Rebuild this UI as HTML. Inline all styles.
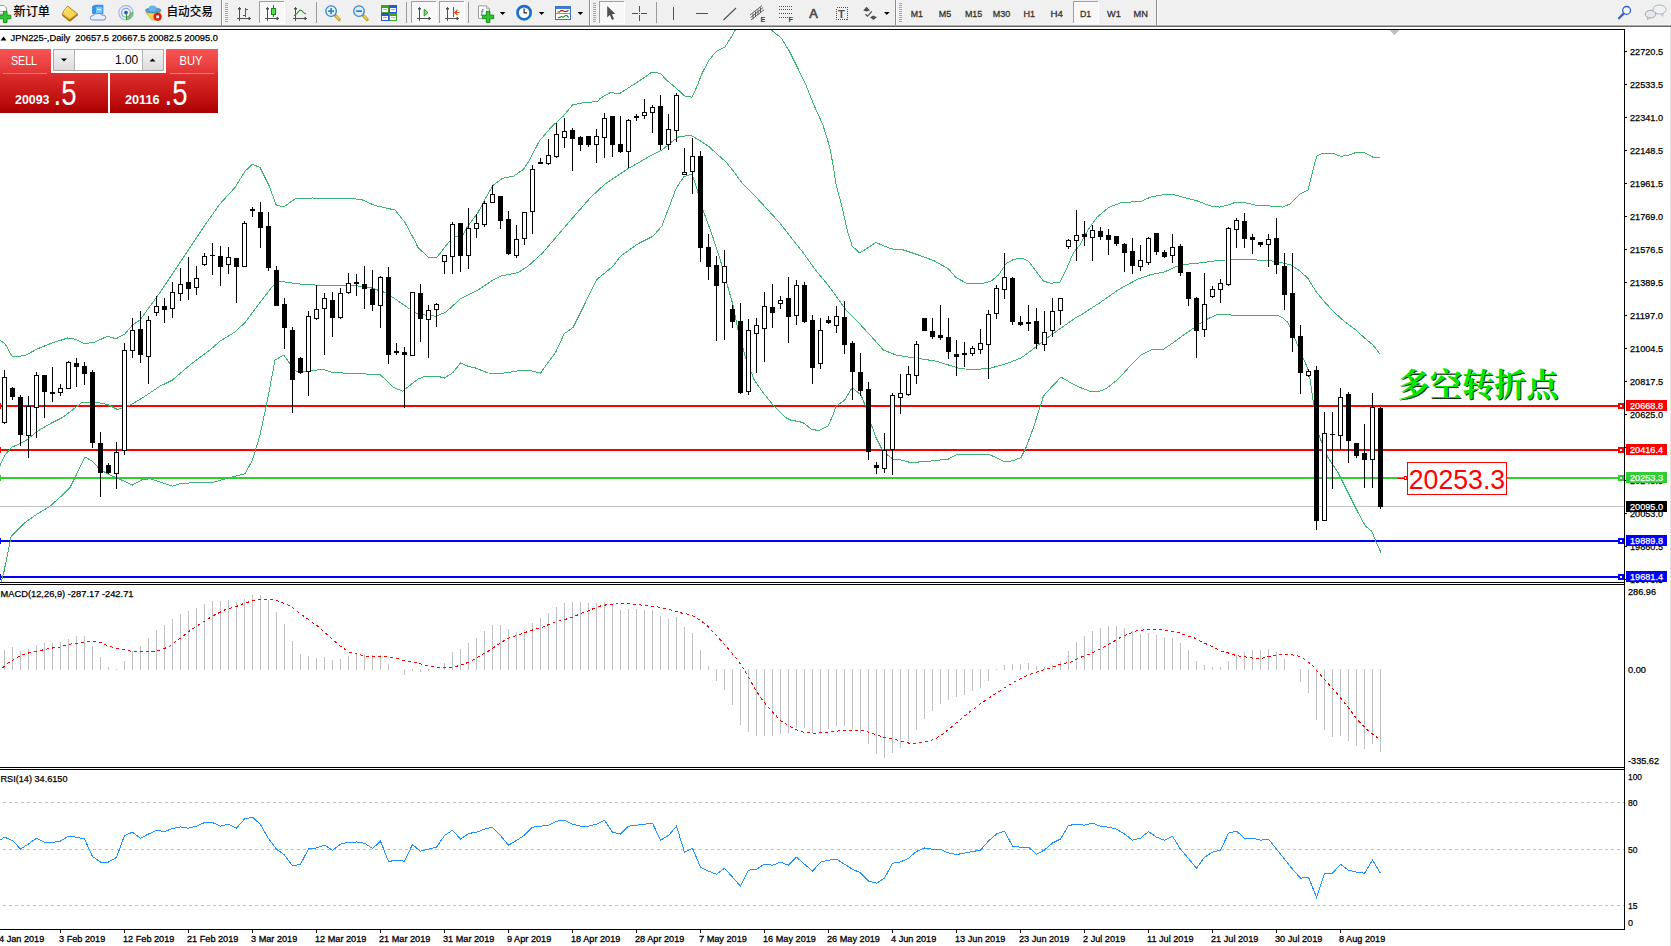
<!DOCTYPE html>
<html lang="zh"><head><meta charset="utf-8"><title>JPN225 Daily</title>
<style>html,body{margin:0;padding:0;background:#fff}body{width:1671px;height:946px;overflow:hidden;position:relative}svg{position:absolute;left:0;top:0;display:block}text{font-family:'Liberation Sans','Noto Sans CJK SC',sans-serif}.c{shape-rendering:crispEdges}</style>
</head><body>
<svg width="1671" height="946" viewBox="0 0 1671 946">
<defs>
<clipPath id="cpMain"><rect x="0" y="30" width="1624" height="552"/></clipPath>
<clipPath id="cpMacd"><rect x="0" y="585" width="1624" height="182"/></clipPath>
<clipPath id="cpRsi"><rect x="0" y="770" width="1624" height="159"/></clipPath>
<linearGradient id="gSell" x1="0" y1="0" x2="0" y2="1"><stop offset="0" stop-color="#f95555"/><stop offset="1" stop-color="#e23434"/></linearGradient>
<linearGradient id="gPrice" x1="0" y1="0" x2="0" y2="1"><stop offset="0" stop-color="#de2f2f"/><stop offset="0.75" stop-color="#bc0c0c"/><stop offset="1" stop-color="#a80000"/></linearGradient>
<linearGradient id="gBtn" x1="0" y1="0" x2="0" y2="1"><stop offset="0" stop-color="#f4f4f4"/><stop offset="1" stop-color="#dcdcdc"/></linearGradient>
</defs>
<rect x="0" y="0" width="1671" height="946" fill="#fff"/>
<g class="c">
<rect x="0" y="0" width="1671" height="25" fill="#f0f0f0"/>
<rect x="0" y="24" width="1671" height="1" fill="#f6f6f6"/>
<rect x="0" y="25" width="1671" height="1" fill="#a9a9a9"/>
<rect x="0" y="26" width="1671" height="1" fill="#6b6b6b"/>
</g>
<path d="M-3 5.5 H4 L6.5 8 V14 H-3 Z" fill="#fff" stroke="#9a9a9a" stroke-width="1"/>
<rect class="c" x="0" y="11" width="4" height="1" fill="#b0b0b0"/>
<path d="M3.4000000000000004 11.4 h3.6 v3.8 h3.8 v3.6 h-3.8 v3.8 h-3.6 v-3.8 h-3.8 v-3.6 h3.8 z" fill="#2ec82e" stroke="#0e8a0e" stroke-width="0.9"/>
<text x="13.5" y="16" font-size="12" font-weight="500" fill="#000" textLength="36.5" lengthAdjust="spacingAndGlyphs">新订单</text>
<path d="M67.7 6 L78 14.2 L71 20.8 Q69.5 21.3 68.5 20.2 L62 14.6 Q63.5 10 67.7 6 Z" fill="#e9b93a" stroke="#b07d18" stroke-width="0.8"/>
<path d="M67.7 7 L76 13.8 L70.5 18.6 L63.6 13.6 Z" fill="#f7d95a"/>
<path d="M62.4 15 L69.4 20.6 L77.6 14.6" fill="none" stroke="#a87718" stroke-width="1.5"/>
<path d="M64.2 12.4 Q65.6 9 67.8 7.2" fill="none" stroke="#fff3b0" stroke-width="1"/>
<path d="M92.5 6.5 L95 5.2 H103 V13.5 H92.5 Z" fill="#2f95ee" stroke="#1f74c8" stroke-width="0.6"/>
<rect x="96" y="7" width="6.4" height="6" fill="#7cc8fb"/>
<rect class="c" x="97" y="9" width="4" height="1" fill="#fff"/>
<path d="M92.5 20 Q90 19.8 90.3 17.6 Q90.6 15.4 93.2 15.6 Q94.5 13 97.6 13.6 Q100 12.6 101.8 15 Q105.8 14.6 105.8 17.6 Q105.8 20 103.2 20 Z" fill="#e9eff8" stroke="#5d86c2" stroke-width="0.9"/>
<circle cx="126" cy="12.7" r="7.2" fill="none" stroke="#a9bce6" stroke-width="1.3"/>
<circle cx="126" cy="12.7" r="4.4" fill="none" stroke="#8aa6e0" stroke-width="1.3"/>
<path d="M126.4 20 A7.3 7.3 0 0 0 133.2 12 L129.8 12.4 A3.9 3.9 0 0 1 126.4 16.4 Z" fill="#62b862" opacity="0.85"/>
<circle cx="126" cy="12.6" r="1.9" fill="#2a56d4"/>
<rect class="c" x="126" y="13" width="1" height="7" fill="#28a428"/>
<path d="M146 12.6 L160.4 12.4 L154.4 20.2 L151.5 19.6 Z" fill="#f3d450" stroke="#d0a21c" stroke-width="0.7"/>
<ellipse cx="153.2" cy="10.4" rx="7.8" ry="2.6" fill="#4f9fd6" stroke="#2f7fb8" stroke-width="0.6"/>
<ellipse cx="152.6" cy="8.4" rx="3.9" ry="3" fill="#69b4e4"/>
<circle cx="157.6" cy="16.8" r="4.1" fill="#e0200c"/>
<rect x="156.3" y="15.5" width="2.7" height="2.7" fill="#fff"/>
<text x="166.5" y="16" font-size="12" font-weight="500" fill="#000" textLength="46.5" lengthAdjust="spacingAndGlyphs">自动交易</text>
<rect class="c" x="221" y="0" width="1" height="25" fill="#8c8c8c"/><rect class="c" x="222" y="0" width="1" height="25" fill="#fbfbfb"/>
<g class="c" fill="#a6a6a6">
<rect x="225" y="3" width="3" height="1"/>
<rect x="225" y="5" width="3" height="1"/>
<rect x="225" y="7" width="3" height="1"/>
<rect x="225" y="9" width="3" height="1"/>
<rect x="225" y="11" width="3" height="1"/>
<rect x="225" y="13" width="3" height="1"/>
<rect x="225" y="15" width="3" height="1"/>
<rect x="225" y="17" width="3" height="1"/>
<rect x="225" y="19" width="3" height="1"/>
<rect x="225" y="21" width="3" height="1"/>
</g>
<g class="c" fill="#505050">
<rect x="239" y="8" width="1" height="13"/>
<rect x="238" y="8" width="3" height="1"/>
<rect x="238" y="9" width="3" height="1" opacity="0.5"/>
<rect x="239" y="7" width="1" height="1"/>
<rect x="237" y="18" width="14" height="1"/>
<rect x="249" y="17" width="1" height="3"/>
<rect x="248" y="17" width="1" height="3" opacity="0.5"/>
</g>
<g class="c" fill="#148a14"><rect x="245" y="8" width="1" height="9"/><rect x="245" y="9" width="3" height="1"/><rect x="243" y="15" width="3" height="1"/></g>
<g class="c">
<rect x="259" y="1" width="25" height="22" fill="#f8f8f8"/>
<rect x="259" y="1" width="25" height="1" fill="#a0a0a0"/>
<rect x="259" y="1" width="1" height="22" fill="#a0a0a0"/>
<rect x="284" y="2" width="1" height="22" fill="#ffffff"/>
<rect x="259" y="23" width="26" height="1" fill="#ffffff"/>
</g>
<g class="c" fill="#505050">
<rect x="267" y="8" width="1" height="13"/>
<rect x="266" y="8" width="3" height="1"/>
<rect x="266" y="9" width="3" height="1" opacity="0.5"/>
<rect x="267" y="7" width="1" height="1"/>
<rect x="265" y="18" width="14" height="1"/>
<rect x="277" y="17" width="1" height="3"/>
<rect x="276" y="17" width="1" height="3" opacity="0.5"/>
</g>
<g class="c"><rect x="273" y="5" width="1" height="12" fill="#148a14"/><rect x="271" y="8" width="5" height="7" fill="#148a14"/><rect x="272" y="9" width="3" height="5" fill="#56e056"/></g>
<g class="c" fill="#505050">
<rect x="295" y="8" width="1" height="13"/>
<rect x="294" y="8" width="3" height="1"/>
<rect x="294" y="9" width="3" height="1" opacity="0.5"/>
<rect x="295" y="7" width="1" height="1"/>
<rect x="293" y="18" width="14" height="1"/>
<rect x="305" y="17" width="1" height="3"/>
<rect x="304" y="17" width="1" height="3" opacity="0.5"/>
</g>
<path d="M294 15.8 Q297.5 13.5 299 11 Q300.3 9.4 301.6 10.6 Q303.5 13 306 14" fill="none" stroke="#2a9a2a" stroke-width="1.1"/>
<rect class="c" x="316" y="2" width="1" height="21" fill="#9a9a9a"/>
<path d="M335.3 15.4 L339.3 19.6" stroke="#caa21e" stroke-width="3" stroke-linecap="round"/>
<path d="M335.70000000000005 15.6 L339.3 19.4" stroke="#f1dc78" stroke-width="1.1"/>
<circle cx="331.1" cy="11.1" r="5.3" fill="#dcf1fd" stroke="#3683d2" stroke-width="1.3"/>
<rect x="328.1" y="10.3" width="6" height="1.7" fill="#3a83b8"/>
<rect x="330.25" y="8.1" width="1.7" height="6" fill="#3a83b8"/>
<path d="M363.2 15.4 L367.2 19.6" stroke="#caa21e" stroke-width="3" stroke-linecap="round"/>
<path d="M363.6 15.6 L367.2 19.4" stroke="#f1dc78" stroke-width="1.1"/>
<circle cx="359.0" cy="11.1" r="5.3" fill="#dcf1fd" stroke="#3683d2" stroke-width="1.3"/>
<rect x="356.0" y="10.3" width="6" height="1.7" fill="#3a83b8"/>
<g class="c"><rect x="381" y="5" width="8" height="8" fill="#3ba322"/><rect x="382" y="8" width="6" height="4" fill="#fff"/><rect x="383" y="9" width="4" height="1" fill="#3ba322" opacity="0.55"/></g>
<g class="c"><rect x="389" y="5" width="8" height="8" fill="#2a55cf"/><rect x="390" y="8" width="6" height="4" fill="#fff"/><rect x="391" y="9" width="4" height="1" fill="#2a55cf" opacity="0.55"/></g>
<g class="c"><rect x="381" y="13" width="8" height="8" fill="#2a55cf"/><rect x="382" y="16" width="6" height="4" fill="#fff"/><rect x="383" y="17" width="4" height="1" fill="#2a55cf" opacity="0.55"/></g>
<g class="c"><rect x="389" y="13" width="8" height="8" fill="#3ba322"/><rect x="390" y="16" width="6" height="4" fill="#fff"/><rect x="391" y="17" width="4" height="1" fill="#3ba322" opacity="0.55"/></g>
<rect class="c" x="406" y="2" width="1" height="21" fill="#9a9a9a"/>
<g class="c">
<rect x="411" y="1" width="25" height="22" fill="#f8f8f8"/>
<rect x="411" y="1" width="25" height="1" fill="#a0a0a0"/>
<rect x="411" y="1" width="1" height="22" fill="#a0a0a0"/>
<rect x="436" y="2" width="1" height="22" fill="#ffffff"/>
<rect x="411" y="23" width="26" height="1" fill="#ffffff"/>
</g>
<g class="c" fill="#505050">
<rect x="419" y="8" width="1" height="13"/>
<rect x="418" y="8" width="3" height="1"/>
<rect x="418" y="9" width="3" height="1" opacity="0.5"/>
<rect x="419" y="7" width="1" height="1"/>
<rect x="417" y="18" width="14" height="1"/>
<rect x="429" y="17" width="1" height="3"/>
<rect x="428" y="17" width="1" height="3" opacity="0.5"/>
</g>
<path d="M424.2 9.2 L428 12.6 L424.2 16 Z" fill="#7be27b" stroke="#1f9d1f" stroke-width="1"/>
<g class="c">
<rect x="439" y="1" width="25" height="22" fill="#f8f8f8"/>
<rect x="439" y="1" width="25" height="1" fill="#a0a0a0"/>
<rect x="439" y="1" width="1" height="22" fill="#a0a0a0"/>
<rect x="464" y="2" width="1" height="22" fill="#ffffff"/>
<rect x="439" y="23" width="26" height="1" fill="#ffffff"/>
</g>
<g class="c" fill="#505050">
<rect x="447" y="8" width="1" height="13"/>
<rect x="446" y="8" width="3" height="1"/>
<rect x="446" y="9" width="3" height="1" opacity="0.5"/>
<rect x="447" y="7" width="1" height="1"/>
<rect x="445" y="18" width="14" height="1"/>
<rect x="457" y="17" width="1" height="3"/>
<rect x="456" y="17" width="1" height="3" opacity="0.5"/>
</g>
<rect class="c" x="453" y="7" width="1" height="10" fill="#2272b2"/>
<path d="M459.5 12.5 H455 M457.5 10 L454.8 12.5 L457.5 15" fill="none" stroke="#d2460f" stroke-width="1.2"/>
<rect class="c" x="468" y="2" width="1" height="21" fill="#9a9a9a"/>
<path d="M478.5 5.9 H486.5 L489.5 8.9 V18.4 H478.5 Z" fill="#fff" stroke="#9a9a9a" stroke-width="1"/>
<path d="M486.5 5.9 V8.9 H489.5" fill="none" stroke="#9a9a9a" stroke-width="0.8"/>
<text x="480.6" y="15.5" font-size="9" font-style="italic" fill="#555">f</text>
<path d="M486.3 11.299999999999999 h3.6 v3.8 h3.8 v3.6 h-3.8 v3.8 h-3.6 v-3.8 h-3.8 v-3.6 h3.8 z" fill="#2ec82e" stroke="#0e8a0e" stroke-width="0.9"/>
<path d="M499.8 12 L505.40000000000003 12 L502.6 15 Z" fill="#000"/>
<circle cx="524.1" cy="12.7" r="6.6" fill="#fdfdfd" stroke="#1a6fcc" stroke-width="2.7"/>
<path d="M524.1 8.6 V12.9 H527" fill="none" stroke="#222" stroke-width="1.1"/>
<path d="M538.8 12 L544.4 12 L541.5999999999999 15 Z" fill="#000"/>
<g class="c"><rect x="555" y="6" width="16" height="14" fill="#fff"/><rect x="555" y="6" width="16" height="3" fill="#3c7fd0"/><rect x="555.5" y="6.5" width="15" height="13" fill="none" stroke="#3a74c0"/><rect x="556" y="13" width="14" height="1" fill="#6f9bd6"/></g>
<path d="M557.5 12 L559.5 12 L561 10.6 L563 10.6 L564.5 11.6 L566.5 11.4 L568.5 10.2" fill="none" stroke="#a22510" stroke-width="1.1"/>
<path d="M558 17.6 L560 17.4 L561.5 16.4 L563 17.4 L565.5 15.6 L567 15.6 L568.6 17.6" fill="none" stroke="#159220" stroke-width="1.1"/>
<path d="M577.6 12 L583.2 12 L580.4 15 Z" fill="#000"/>
<rect class="c" x="589" y="0" width="1" height="25" fill="#8c8c8c"/><rect class="c" x="590" y="0" width="1" height="25" fill="#fbfbfb"/>
<g class="c" fill="#a6a6a6">
<rect x="593" y="3" width="3" height="1"/>
<rect x="593" y="5" width="3" height="1"/>
<rect x="593" y="7" width="3" height="1"/>
<rect x="593" y="9" width="3" height="1"/>
<rect x="593" y="11" width="3" height="1"/>
<rect x="593" y="13" width="3" height="1"/>
<rect x="593" y="15" width="3" height="1"/>
<rect x="593" y="17" width="3" height="1"/>
<rect x="593" y="19" width="3" height="1"/>
<rect x="593" y="21" width="3" height="1"/>
</g>
<g class="c">
<rect x="599" y="1" width="25" height="22" fill="#f8f8f8"/>
<rect x="599" y="1" width="25" height="1" fill="#a0a0a0"/>
<rect x="599" y="1" width="1" height="22" fill="#a0a0a0"/>
<rect x="624" y="2" width="1" height="22" fill="#ffffff"/>
<rect x="599" y="23" width="26" height="1" fill="#ffffff"/>
</g>
<path d="M607.2 6 V17.4 L609.9 15 L612 19.9 L614 19 L611.9 14.3 L615.3 13.8 Z" fill="#505050"/>
<g class="c" fill="#505050"><rect x="639" y="6" width="1" height="15"/><rect x="632" y="13" width="15" height="1"/></g>
<rect class="c" x="638" y="12" width="3" height="3" fill="#f0f0f0"/><rect class="c" x="639" y="13" width="1" height="1" fill="#505050"/>
<rect class="c" x="656" y="2" width="1" height="21" fill="#9a9a9a"/>
<g class="c" fill="#505050"><rect x="673" y="7" width="1" height="13"/><rect x="696" y="13" width="12" height="1"/></g>
<path d="M723.5 20 L736 8" stroke="#505050" stroke-width="1.1"/>
<path d="M750 15 L762 5.6 M751 20 L764 9.8 M750.5 17.6 L763 7.6" stroke="#505050" stroke-width="0.9" fill="none"/>
<path d="M753 13.5 V19 M755.5 11.5 V17 M758 9.5 V15 M760.5 7.5 V13" stroke="#505050" stroke-width="0.9" fill="none"/>
<text x="760.4" y="21.8" font-size="7.4" font-weight="bold" fill="#404040">E</text>
<g class="c" stroke="#505050" stroke-width="1" stroke-dasharray="1 1"><line x1="779" y1="6.5" x2="792.5" y2="6.5"/><line x1="779" y1="9.5" x2="792.5" y2="9.5"/><line x1="779" y1="13.5" x2="792.5" y2="13.5"/><line x1="779" y1="17.5" x2="788.5" y2="17.5"/></g>
<text x="788.6" y="21.8" font-size="7.4" font-weight="bold" fill="#404040">F</text>
<text x="809.3" y="18.1" font-size="12.8" fill="#505050" stroke="#505050" stroke-width="0.7">A</text>
<rect class="c" x="836.5" y="7.5" width="11" height="12" fill="none" stroke="#505050" stroke-width="1" stroke-dasharray="1 1"/>
<text x="838.1" y="18.1" font-size="11" font-weight="bold" fill="#505050">T</text>
<path d="M863.2 10.4 L866.6 6.8 L870 10.4 L866.6 11.6 Z" fill="#505050"/>
<path d="M870 17.2 L873.4 15.6 L876.9 17.2 L873.4 20 Z" fill="#505050"/>
<path d="M865.4 14.2 L867.6 16.2 L871.8 11.4" fill="none" stroke="#505050" stroke-width="1.2"/>
<path d="M884 12 L889.6 12 L886.8 15 Z" fill="#000"/>
<rect class="c" x="895" y="0" width="1" height="25" fill="#8c8c8c"/><rect class="c" x="896" y="0" width="1" height="25" fill="#fbfbfb"/>
<g class="c" fill="#a6a6a6">
<rect x="899" y="3" width="3" height="1"/>
<rect x="899" y="5" width="3" height="1"/>
<rect x="899" y="7" width="3" height="1"/>
<rect x="899" y="9" width="3" height="1"/>
<rect x="899" y="11" width="3" height="1"/>
<rect x="899" y="13" width="3" height="1"/>
<rect x="899" y="15" width="3" height="1"/>
<rect x="899" y="17" width="3" height="1"/>
<rect x="899" y="19" width="3" height="1"/>
<rect x="899" y="21" width="3" height="1"/>
</g>
<g class="c">
<rect x="1073" y="1" width="25" height="22" fill="#f8f8f8"/>
<rect x="1073" y="1" width="25" height="1" fill="#a0a0a0"/>
<rect x="1073" y="1" width="1" height="22" fill="#a0a0a0"/>
<rect x="1098" y="2" width="1" height="22" fill="#ffffff"/>
<rect x="1073" y="23" width="26" height="1" fill="#ffffff"/>
</g>
<text x="910.8" y="16.5" font-size="9.7" fill="#333" stroke="#333" stroke-width="0.3" textLength="12.2" lengthAdjust="spacingAndGlyphs">M1</text>
<text x="938.8" y="16.5" font-size="9.7" fill="#333" stroke="#333" stroke-width="0.3" textLength="12.4" lengthAdjust="spacingAndGlyphs">M5</text>
<text x="964.9" y="16.5" font-size="9.7" fill="#333" stroke="#333" stroke-width="0.3" textLength="17.3" lengthAdjust="spacingAndGlyphs">M15</text>
<text x="992.7" y="16.5" font-size="9.7" fill="#333" stroke="#333" stroke-width="0.3" textLength="17.5" lengthAdjust="spacingAndGlyphs">M30</text>
<text x="1023.5" y="16.5" font-size="9.7" fill="#333" stroke="#333" stroke-width="0.3" textLength="11.6" lengthAdjust="spacingAndGlyphs">H1</text>
<text x="1050.6" y="16.5" font-size="9.7" fill="#333" stroke="#333" stroke-width="0.3" textLength="12.4" lengthAdjust="spacingAndGlyphs">H4</text>
<text x="1080" y="16.5" font-size="9.7" fill="#333" stroke="#333" stroke-width="0.3" textLength="11.2" lengthAdjust="spacingAndGlyphs">D1</text>
<text x="1107" y="16.5" font-size="9.7" fill="#333" stroke="#333" stroke-width="0.3" textLength="13.8" lengthAdjust="spacingAndGlyphs">W1</text>
<text x="1133.6" y="16.5" font-size="9.7" fill="#333" stroke="#333" stroke-width="0.3" textLength="14.4" lengthAdjust="spacingAndGlyphs">MN</text>
<rect class="c" x="1156" y="0" width="1" height="25" fill="#8c8c8c"/><rect class="c" x="1157" y="0" width="1" height="25" fill="#fbfbfb"/>
<circle cx="1626.6" cy="10.4" r="3.9" fill="#f4f8ff" stroke="#2f5fd0" stroke-width="1.3"/>
<path d="M1623.6 13.6 L1619 18.2" stroke="#2f5fd0" stroke-width="2.2" stroke-linecap="round"/>
<ellipse cx="1659.5" cy="9.5" rx="6.6" ry="4.6" fill="#eef0f4" stroke="#a9acb4" stroke-width="0.9"/>
<path d="M1661 13.8 L1662.6 16.4 L1663.4 13.4" fill="#d9dbe0" stroke="#a9acb4" stroke-width="0.6"/>
<ellipse cx="1650.5" cy="14.2" rx="5.3" ry="3.8" fill="#e6e8ee" stroke="#9a9da6" stroke-width="0.9"/>
<path d="M1647.6 17.4 L1647.4 19.8 L1650 18" fill="#d9dbe0" stroke="#9a9da6" stroke-width="0.6"/>
<g class="c">
<rect x="0" y="29" width="1625" height="1" fill="#000"/>
<rect x="1624" y="29" width="1" height="901" fill="#000"/>
<rect x="0" y="582" width="1625" height="1" fill="#000"/>
<rect x="0" y="584" width="1625" height="1" fill="#000"/>
<rect x="0" y="767" width="1625" height="1" fill="#000"/>
<rect x="0" y="769" width="1625" height="1" fill="#000"/>
<rect x="0" y="929" width="1625" height="1" fill="#000"/>
<rect x="1625" y="583" width="45" height="1" fill="#fff"/>
<rect x="1670" y="27" width="1" height="919" fill="#e3e3e3"/>
</g>
<g clip-path="url(#cpMain)">
<rect class="c" x="0" y="506" width="1624" height="1" fill="#c0c0c0"/>
<g class="c">
<rect x="0" y="405" width="1624" height="2" fill="#ff0000"/>
<rect x="0" y="403" width="1" height="6" fill="#ff0000"/>
<rect x="1618" y="403" width="6" height="6" fill="#ff0000"/>
<rect x="1620" y="405" width="2" height="2" fill="#fff"/>
<rect x="0" y="449" width="1624" height="2" fill="#ff0000"/>
<rect x="0" y="447" width="1" height="6" fill="#ff0000"/>
<rect x="1618" y="447" width="6" height="6" fill="#ff0000"/>
<rect x="1620" y="449" width="2" height="2" fill="#fff"/>
<rect x="0" y="477" width="1624" height="2" fill="#32cd32"/>
<rect x="0" y="475" width="1" height="6" fill="#32cd32"/>
<rect x="1618" y="475" width="6" height="6" fill="#32cd32"/>
<rect x="1620" y="477" width="2" height="2" fill="#fff"/>
<rect x="0" y="540" width="1624" height="2" fill="#0000ff"/>
<rect x="0" y="538" width="1" height="6" fill="#0000ff"/>
<rect x="1618" y="538" width="6" height="6" fill="#0000ff"/>
<rect x="1620" y="540" width="2" height="2" fill="#fff"/>
<rect x="0" y="576" width="1624" height="2" fill="#0000ff"/>
<rect x="0" y="574" width="1" height="6" fill="#0000ff"/>
<rect x="1618" y="574" width="6" height="6" fill="#0000ff"/>
<rect x="1620" y="576" width="2" height="2" fill="#fff"/>
</g>
<g class="c">
<polyline fill="none" stroke="#3cb371" stroke-width="1" points="0.0,340.0 5.0,343.8 12.5,357.0 25.0,355.5 37.5,348.8 50.0,343.8 67.5,338.0 75.0,339.2 85.0,343.8 95.0,342.0 107.5,336.2 116.2,338.8 125.0,333.8 132.5,325.0 140.0,320.0 150.0,306.2 160.0,292.5 175.0,270.0 190.0,247.5 205.0,225.0 220.0,203.8 235.0,187.5 245.0,171.2 252.5,164.2 260.0,167.5 268.8,185.0 276.2,205.0 283.8,207.0 295.0,198.8 312.5,198.0 337.5,199.0 350.0,198.0 362.5,200.0 375.0,205.5 395.0,210.0 405.0,222.5 415.0,241.2 418.0,247.5 428.0,257.0 436.7,257.6 449.0,241.8 454.7,236.1 462.4,236.1 468.1,225.6 477.6,213.2 485.2,199.0 492.8,185.6 502.3,178.4 513.7,176.1 523.3,169.5 529.0,160.9 539.4,140.9 551.8,126.6 563.2,116.2 572.7,104.8 582.3,102.9 597.5,101.5 600.0,98.5 610.0,92.7 620.0,93.4 633.5,84.6 643.6,78.0 652.0,72.0 660.3,73.4 667.0,80.5 677.0,88.8 684.6,96.0 691.8,97.2 696.3,88.0 702.2,73.0 708.9,60.3 716.5,51.1 724.8,47.0 731.5,36.9 735.4,29.7 741.0,18.0 765.0,18.0 770.9,29.7 781.0,37.7 789.3,51.1 797.7,67.9 806.1,85.5 814.5,106.4 822.9,124.9 829.6,146.6 833.7,168.4 835.9,184.0 842.2,207.5 847.2,230.0 852.2,246.2 859.8,253.0 876.0,242.5 891.0,248.8 903.5,250.0 918.5,255.0 933.5,260.5 948.5,268.8 956.0,277.5 966.0,283.0 981.0,283.8 991.0,281.2 998.5,275.0 1006.0,263.8 1013.5,259.5 1022.2,258.0 1028.5,261.2 1036.0,271.2 1043.5,281.2 1051.0,283.2 1059.8,282.5 1066.0,270.0 1073.5,252.5 1080.0,244.8 1087.7,230.4 1097.2,217.0 1108.7,207.4 1122.1,202.3 1140.3,201.7 1150.9,196.9 1162.3,195.0 1172.9,194.4 1185.3,197.9 1196.8,200.7 1210.2,205.9 1219.8,207.1 1227.5,205.2 1236.1,202.1 1244.7,202.7 1256.2,205.2 1271.5,206.1 1283.0,207.1 1290.6,203.6 1300.2,194.0 1307.9,190.2 1310.8,178.7 1314.6,163.4 1317.1,155.7 1323.2,153.3 1332.8,153.3 1340.4,156.3 1348.1,155.4 1355.8,152.5 1364.4,152.5 1373.0,157.3 1380.0,157.3" />
<polyline fill="none" stroke="#3cb371" stroke-width="1" points="0.0,465.5 5.0,455.0 11.2,447.5 25.0,441.2 37.5,431.2 50.0,423.8 62.5,417.5 75.0,408.0 82.5,402.0 95.0,402.0 107.5,404.5 117.5,409.5 125.0,407.0 132.5,403.8 145.0,396.2 160.0,386.2 172.5,380.0 190.0,365.0 210.0,350.0 220.0,341.2 235.0,332.0 245.0,322.5 260.0,302.5 272.5,286.2 280.0,281.2 297.5,283.8 315.0,285.0 332.5,285.8 350.0,285.0 360.0,286.2 370.0,287.5 385.0,292.5 395.0,298.8 407.5,307.5 418.0,314.2 435.5,316.2 445.5,312.5 460.5,298.8 478.0,290.0 493.0,280.0 500.5,276.2 518.0,272.5 528.0,266.2 543.0,252.5 558.0,235.0 573.0,217.5 590.5,197.5 605.0,184.0 628.5,168.4 650.3,155.9 662.0,150.0 672.0,141.6 678.8,136.9 690.5,135.2 698.9,139.9 708.9,146.6 717.3,154.2 725.7,161.7 734.0,171.8 742.4,183.5 750.5,191.2 768.0,210.0 780.5,223.8 793.0,240.0 803.0,252.5 815.5,270.0 828.0,285.0 836.0,296.0 846.0,310.0 858.5,322.5 871.0,336.2 883.5,350.0 896.0,355.0 911.0,357.5 921.0,358.8 936.0,361.2 948.5,365.0 961.0,368.8 976.0,369.5 991.0,368.0 1006.0,363.8 1021.0,358.0 1033.5,348.8 1048.5,337.0 1061.0,328.0 1076.0,317.5 1080.0,315.6 1099.1,303.2 1118.3,289.8 1137.4,279.3 1150.9,274.5 1164.3,272.0 1175.7,266.8 1184.4,264.5 1204.5,262.4 1217.9,260.5 1233.2,259.5 1250.4,259.5 1263.8,260.5 1273.4,261.1 1283.0,263.0 1290.6,264.9 1298.3,269.7 1307.9,278.3 1315.5,290.8 1323.2,300.3 1332.8,310.9 1344.3,321.4 1355.8,330.0 1365.5,338.8 1373.0,345.0 1380.0,354.2" />
<polyline fill="none" stroke="#3cb371" stroke-width="1" points="0.0,585.8 3.8,572.5 11.2,536.2 25.0,522.5 37.5,513.8 50.0,506.2 62.5,495.0 70.0,487.5 75.0,477.5 85.0,457.0 92.5,461.2 100.0,469.5 110.0,475.0 117.5,478.2 132.5,485.0 142.5,479.5 150.0,478.8 172.5,486.2 180.0,483.8 195.0,482.5 212.5,482.5 230.0,477.5 245.0,473.8 252.5,460.0 260.0,435.0 267.5,400.0 275.0,360.0 283.8,355.0 290.0,363.8 296.2,371.2 303.8,372.0 322.5,369.2 332.5,372.5 360.0,373.8 380.0,374.5 393.8,387.5 402.5,391.2 418.0,379.0 425.5,376.2 438.0,376.2 444.2,378.2 453.0,372.5 460.5,363.0 468.0,366.2 475.5,368.0 488.0,373.0 503.0,373.2 520.5,370.5 530.5,370.5 540.5,373.2 548.0,362.5 555.5,352.5 564.2,333.8 573.0,327.5 583.0,307.5 596.8,279.5 613.0,266.2 620.5,256.2 638.0,243.8 653.0,236.2 661.8,226.2 668.0,210.0 675.5,190.0 678.8,184.0 683.8,176.8 691.8,174.0 695.5,184.0 698.0,192.5 703.0,210.0 713.0,237.5 721.8,265.0 728.0,287.5 733.0,305.0 738.0,330.0 745.5,357.5 754.2,380.0 763.0,392.5 773.0,405.0 785.5,417.5 790.5,420.0 803.0,422.5 811.8,429.5 819.2,430.5 828.0,426.2 833.0,415.0 836.0,406.2 844.8,400.0 852.2,387.5 861.0,395.0 866.0,407.5 871.0,423.8 876.0,437.5 881.0,447.5 886.0,453.8 893.5,459.5 901.0,460.0 908.5,462.0 918.5,462.0 933.5,460.8 948.5,459.0 956.0,455.0 971.0,454.2 988.5,454.2 996.0,457.5 1004.8,462.0 1013.5,460.5 1021.0,457.5 1026.0,447.5 1033.5,427.5 1039.8,407.5 1043.5,396.0 1052.0,386.5 1061.0,377.2 1066.0,380.0 1072.7,384.0 1082.4,388.4 1092.0,392.0 1099.0,391.3 1106.0,388.8 1118.5,378.8 1131.0,365.0 1141.0,355.0 1151.0,350.0 1163.5,349.2 1173.5,342.5 1183.5,335.0 1191.0,330.0 1198.7,324.3 1208.3,318.5 1217.9,314.3 1233.2,315.1 1277.2,315.1 1283.0,318.1 1287.8,322.4 1291.6,330.0 1295.5,340.0 1301.8,355.0 1306.8,366.2 1309.2,373.8 1313.0,400.0 1319.2,436.2 1328.0,457.5 1338.0,472.5 1348.0,492.5 1358.0,512.5 1365.5,526.2 1371.8,531.2 1376.8,543.8 1381.0,552.5" />
</g>
<g class="c">
<rect x="4" y="370" width="1" height="54" fill="#000"/>
<rect x="2" y="377" width="5" height="46" fill="#000"/>
<rect x="3" y="378" width="3" height="44" fill="#fff"/>
<rect x="12" y="387" width="1" height="13" fill="#000"/>
<rect x="10" y="388" width="5" height="9" fill="#000"/>
<rect x="20" y="395" width="1" height="51" fill="#000"/>
<rect x="18" y="397" width="5" height="38" fill="#000"/>
<rect x="28" y="396" width="1" height="62" fill="#000"/>
<rect x="26" y="406" width="5" height="30" fill="#000"/>
<rect x="27" y="407" width="3" height="28" fill="#fff"/>
<rect x="36" y="372" width="1" height="66" fill="#000"/>
<rect x="34" y="375" width="5" height="33" fill="#000"/>
<rect x="35" y="376" width="3" height="31" fill="#fff"/>
<rect x="44" y="375" width="1" height="43" fill="#000"/>
<rect x="42" y="375" width="5" height="17" fill="#000"/>
<rect x="52" y="367" width="1" height="35" fill="#000"/>
<rect x="50" y="392" width="5" height="2" fill="#000"/>
<rect x="60" y="384" width="1" height="12" fill="#000"/>
<rect x="58" y="388" width="5" height="5" fill="#000"/>
<rect x="59" y="389" width="3" height="3" fill="#fff"/>
<rect x="68" y="361" width="1" height="27" fill="#000"/>
<rect x="66" y="362" width="5" height="27" fill="#000"/>
<rect x="67" y="363" width="3" height="25" fill="#fff"/>
<rect x="76" y="358" width="1" height="29" fill="#000"/>
<rect x="74" y="363" width="5" height="4" fill="#000"/>
<rect x="84" y="362" width="1" height="23" fill="#000"/>
<rect x="82" y="366" width="5" height="8" fill="#000"/>
<rect x="92" y="370" width="1" height="78" fill="#000"/>
<rect x="90" y="372" width="5" height="71" fill="#000"/>
<rect x="100" y="432" width="1" height="65" fill="#000"/>
<rect x="98" y="443" width="5" height="30" fill="#000"/>
<rect x="108" y="463" width="1" height="11" fill="#000"/>
<rect x="106" y="465" width="5" height="8" fill="#000"/>
<rect x="116" y="442" width="1" height="47" fill="#000"/>
<rect x="114" y="452" width="5" height="22" fill="#000"/>
<rect x="115" y="453" width="3" height="20" fill="#fff"/>
<rect x="124" y="343" width="1" height="112" fill="#000"/>
<rect x="122" y="350" width="5" height="101" fill="#000"/>
<rect x="123" y="351" width="3" height="99" fill="#fff"/>
<rect x="132" y="318" width="1" height="40" fill="#000"/>
<rect x="130" y="330" width="5" height="21" fill="#000"/>
<rect x="131" y="331" width="3" height="19" fill="#fff"/>
<rect x="140" y="311" width="1" height="52" fill="#000"/>
<rect x="138" y="329" width="5" height="26" fill="#000"/>
<rect x="148" y="316" width="1" height="68" fill="#000"/>
<rect x="146" y="320" width="5" height="37" fill="#000"/>
<rect x="147" y="321" width="3" height="35" fill="#fff"/>
<rect x="156" y="296" width="1" height="20" fill="#000"/>
<rect x="154" y="306" width="5" height="7" fill="#000"/>
<rect x="155" y="307" width="3" height="5" fill="#fff"/>
<rect x="164" y="298" width="1" height="25" fill="#000"/>
<rect x="162" y="306" width="5" height="4" fill="#000"/>
<rect x="172" y="282" width="1" height="36" fill="#000"/>
<rect x="170" y="292" width="5" height="17" fill="#000"/>
<rect x="171" y="293" width="3" height="15" fill="#fff"/>
<rect x="180" y="268" width="1" height="33" fill="#000"/>
<rect x="178" y="284" width="5" height="10" fill="#000"/>
<rect x="179" y="285" width="3" height="8" fill="#fff"/>
<rect x="188" y="257" width="1" height="43" fill="#000"/>
<rect x="186" y="282" width="5" height="7" fill="#000"/>
<rect x="196" y="266" width="1" height="29" fill="#000"/>
<rect x="194" y="278" width="5" height="10" fill="#000"/>
<rect x="195" y="279" width="3" height="8" fill="#fff"/>
<rect x="204" y="253" width="1" height="13" fill="#000"/>
<rect x="202" y="256" width="5" height="9" fill="#000"/>
<rect x="203" y="257" width="3" height="7" fill="#fff"/>
<rect x="212" y="243" width="1" height="32" fill="#000"/>
<rect x="210" y="255" width="5" height="1" fill="#000"/>
<rect x="220" y="246" width="1" height="40" fill="#000"/>
<rect x="218" y="256" width="5" height="11" fill="#000"/>
<rect x="228" y="247" width="1" height="27" fill="#000"/>
<rect x="226" y="257" width="5" height="8" fill="#000"/>
<rect x="227" y="258" width="3" height="6" fill="#fff"/>
<rect x="236" y="258" width="1" height="45" fill="#000"/>
<rect x="234" y="258" width="5" height="9" fill="#000"/>
<rect x="244" y="221" width="1" height="46" fill="#000"/>
<rect x="242" y="223" width="5" height="44" fill="#000"/>
<rect x="243" y="224" width="3" height="42" fill="#fff"/>
<rect x="252" y="207" width="1" height="10" fill="#000"/>
<rect x="250" y="209" width="5" height="2" fill="#000"/>
<rect x="260" y="202" width="1" height="46" fill="#000"/>
<rect x="258" y="212" width="5" height="16" fill="#000"/>
<rect x="268" y="212" width="1" height="59" fill="#000"/>
<rect x="266" y="226" width="5" height="42" fill="#000"/>
<rect x="276" y="266" width="1" height="40" fill="#000"/>
<rect x="274" y="270" width="5" height="36" fill="#000"/>
<rect x="284" y="298" width="1" height="51" fill="#000"/>
<rect x="282" y="304" width="5" height="24" fill="#000"/>
<rect x="292" y="327" width="1" height="86" fill="#000"/>
<rect x="290" y="330" width="5" height="50" fill="#000"/>
<rect x="300" y="357" width="1" height="17" fill="#000"/>
<rect x="298" y="358" width="5" height="15" fill="#000"/>
<rect x="308" y="311" width="1" height="85" fill="#000"/>
<rect x="306" y="316" width="5" height="56" fill="#000"/>
<rect x="307" y="317" width="3" height="54" fill="#fff"/>
<rect x="316" y="285" width="1" height="35" fill="#000"/>
<rect x="314" y="309" width="5" height="10" fill="#000"/>
<rect x="315" y="310" width="3" height="8" fill="#fff"/>
<rect x="324" y="293" width="1" height="62" fill="#000"/>
<rect x="322" y="298" width="5" height="11" fill="#000"/>
<rect x="323" y="299" width="3" height="9" fill="#fff"/>
<rect x="332" y="292" width="1" height="45" fill="#000"/>
<rect x="330" y="300" width="5" height="18" fill="#000"/>
<rect x="340" y="288" width="1" height="31" fill="#000"/>
<rect x="338" y="293" width="5" height="25" fill="#000"/>
<rect x="339" y="294" width="3" height="23" fill="#fff"/>
<rect x="348" y="273" width="1" height="21" fill="#000"/>
<rect x="346" y="283" width="5" height="10" fill="#000"/>
<rect x="347" y="284" width="3" height="8" fill="#fff"/>
<rect x="356" y="274" width="1" height="22" fill="#000"/>
<rect x="354" y="282" width="5" height="2" fill="#000"/>
<rect x="364" y="266" width="1" height="43" fill="#000"/>
<rect x="362" y="284" width="5" height="5" fill="#000"/>
<rect x="372" y="270" width="1" height="41" fill="#000"/>
<rect x="370" y="289" width="5" height="16" fill="#000"/>
<rect x="380" y="276" width="1" height="52" fill="#000"/>
<rect x="378" y="277" width="5" height="29" fill="#000"/>
<rect x="379" y="278" width="3" height="27" fill="#fff"/>
<rect x="388" y="267" width="1" height="97" fill="#000"/>
<rect x="386" y="277" width="5" height="78" fill="#000"/>
<rect x="396" y="343" width="1" height="12" fill="#000"/>
<rect x="394" y="351" width="5" height="2" fill="#000"/>
<rect x="404" y="347" width="1" height="61" fill="#000"/>
<rect x="402" y="352" width="5" height="3" fill="#000"/>
<rect x="412" y="292" width="1" height="64" fill="#000"/>
<rect x="410" y="292" width="5" height="64" fill="#000"/>
<rect x="411" y="293" width="3" height="62" fill="#fff"/>
<rect x="420" y="284" width="1" height="58" fill="#000"/>
<rect x="418" y="293" width="5" height="26" fill="#000"/>
<rect x="428" y="305" width="1" height="53" fill="#000"/>
<rect x="426" y="310" width="5" height="10" fill="#000"/>
<rect x="427" y="311" width="3" height="8" fill="#fff"/>
<rect x="436" y="303" width="1" height="24" fill="#000"/>
<rect x="434" y="304" width="5" height="6" fill="#000"/>
<rect x="435" y="305" width="3" height="4" fill="#fff"/>
<rect x="444" y="255" width="1" height="19" fill="#000"/>
<rect x="442" y="255" width="5" height="7" fill="#000"/>
<rect x="443" y="256" width="3" height="5" fill="#fff"/>
<rect x="452" y="222" width="1" height="52" fill="#000"/>
<rect x="450" y="224" width="5" height="33" fill="#000"/>
<rect x="451" y="225" width="3" height="31" fill="#fff"/>
<rect x="460" y="223" width="1" height="49" fill="#000"/>
<rect x="458" y="223" width="5" height="33" fill="#000"/>
<rect x="468" y="208" width="1" height="61" fill="#000"/>
<rect x="466" y="228" width="5" height="28" fill="#000"/>
<rect x="467" y="229" width="3" height="26" fill="#fff"/>
<rect x="476" y="214" width="1" height="24" fill="#000"/>
<rect x="474" y="223" width="5" height="6" fill="#000"/>
<rect x="475" y="224" width="3" height="4" fill="#fff"/>
<rect x="484" y="201" width="1" height="26" fill="#000"/>
<rect x="482" y="203" width="5" height="22" fill="#000"/>
<rect x="483" y="204" width="3" height="20" fill="#fff"/>
<rect x="492" y="185" width="1" height="18" fill="#000"/>
<rect x="490" y="194" width="5" height="9" fill="#000"/>
<rect x="491" y="195" width="3" height="7" fill="#fff"/>
<rect x="500" y="196" width="1" height="33" fill="#000"/>
<rect x="498" y="196" width="5" height="25" fill="#000"/>
<rect x="508" y="211" width="1" height="44" fill="#000"/>
<rect x="506" y="219" width="5" height="35" fill="#000"/>
<rect x="516" y="225" width="1" height="33" fill="#000"/>
<rect x="514" y="239" width="5" height="17" fill="#000"/>
<rect x="515" y="240" width="3" height="15" fill="#fff"/>
<rect x="524" y="212" width="1" height="33" fill="#000"/>
<rect x="522" y="212" width="5" height="27" fill="#000"/>
<rect x="523" y="213" width="3" height="25" fill="#fff"/>
<rect x="532" y="165" width="1" height="69" fill="#000"/>
<rect x="530" y="169" width="5" height="43" fill="#000"/>
<rect x="531" y="170" width="3" height="41" fill="#fff"/>
<rect x="540" y="158" width="1" height="5" fill="#000"/>
<rect x="538" y="162" width="5" height="2" fill="#000"/>
<rect x="548" y="139" width="1" height="26" fill="#000"/>
<rect x="546" y="155" width="5" height="9" fill="#000"/>
<rect x="547" y="156" width="3" height="7" fill="#fff"/>
<rect x="556" y="123" width="1" height="35" fill="#000"/>
<rect x="554" y="134" width="5" height="23" fill="#000"/>
<rect x="555" y="135" width="3" height="21" fill="#fff"/>
<rect x="564" y="118" width="1" height="30" fill="#000"/>
<rect x="562" y="131" width="5" height="7" fill="#000"/>
<rect x="563" y="132" width="3" height="5" fill="#fff"/>
<rect x="572" y="128" width="1" height="43" fill="#000"/>
<rect x="570" y="130" width="5" height="9" fill="#000"/>
<rect x="580" y="136" width="1" height="15" fill="#000"/>
<rect x="578" y="137" width="5" height="8" fill="#000"/>
<rect x="588" y="136" width="1" height="11" fill="#000"/>
<rect x="586" y="136" width="5" height="9" fill="#000"/>
<rect x="596" y="129" width="1" height="34" fill="#000"/>
<rect x="594" y="136" width="5" height="9" fill="#000"/>
<rect x="595" y="137" width="3" height="7" fill="#fff"/>
<rect x="604" y="113" width="1" height="45" fill="#000"/>
<rect x="602" y="118" width="5" height="20" fill="#000"/>
<rect x="603" y="119" width="3" height="18" fill="#fff"/>
<rect x="612" y="116" width="1" height="41" fill="#000"/>
<rect x="610" y="116" width="5" height="29" fill="#000"/>
<rect x="620" y="116" width="1" height="37" fill="#000"/>
<rect x="618" y="144" width="5" height="8" fill="#000"/>
<rect x="628" y="119" width="1" height="49" fill="#000"/>
<rect x="626" y="120" width="5" height="32" fill="#000"/>
<rect x="627" y="121" width="3" height="30" fill="#fff"/>
<rect x="636" y="114" width="1" height="7" fill="#000"/>
<rect x="634" y="116" width="5" height="2" fill="#000"/>
<rect x="644" y="99" width="1" height="20" fill="#000"/>
<rect x="642" y="112" width="5" height="4" fill="#000"/>
<rect x="643" y="113" width="3" height="2" fill="#fff"/>
<rect x="652" y="105" width="1" height="28" fill="#000"/>
<rect x="650" y="107" width="5" height="6" fill="#000"/>
<rect x="651" y="108" width="3" height="4" fill="#fff"/>
<rect x="660" y="95" width="1" height="55" fill="#000"/>
<rect x="658" y="106" width="5" height="39" fill="#000"/>
<rect x="668" y="114" width="1" height="36" fill="#000"/>
<rect x="666" y="129" width="5" height="16" fill="#000"/>
<rect x="667" y="130" width="3" height="14" fill="#fff"/>
<rect x="676" y="93" width="1" height="49" fill="#000"/>
<rect x="674" y="95" width="5" height="36" fill="#000"/>
<rect x="675" y="96" width="3" height="34" fill="#fff"/>
<rect x="684" y="148" width="1" height="27" fill="#000"/>
<rect x="682" y="172" width="5" height="3" fill="#000"/>
<rect x="683" y="173" width="3" height="1" fill="#fff"/>
<rect x="692" y="138" width="1" height="56" fill="#000"/>
<rect x="690" y="156" width="5" height="16" fill="#000"/>
<rect x="691" y="157" width="3" height="14" fill="#fff"/>
<rect x="700" y="151" width="1" height="111" fill="#000"/>
<rect x="698" y="156" width="5" height="92" fill="#000"/>
<rect x="708" y="234" width="1" height="46" fill="#000"/>
<rect x="706" y="247" width="5" height="20" fill="#000"/>
<rect x="716" y="256" width="1" height="85" fill="#000"/>
<rect x="714" y="265" width="5" height="21" fill="#000"/>
<rect x="724" y="250" width="1" height="90" fill="#000"/>
<rect x="722" y="266" width="5" height="17" fill="#000"/>
<rect x="723" y="267" width="3" height="15" fill="#fff"/>
<rect x="732" y="305" width="1" height="23" fill="#000"/>
<rect x="730" y="309" width="5" height="13" fill="#000"/>
<rect x="740" y="303" width="1" height="91" fill="#000"/>
<rect x="738" y="321" width="5" height="72" fill="#000"/>
<rect x="748" y="319" width="1" height="76" fill="#000"/>
<rect x="746" y="330" width="5" height="62" fill="#000"/>
<rect x="747" y="331" width="3" height="60" fill="#fff"/>
<rect x="756" y="318" width="1" height="55" fill="#000"/>
<rect x="754" y="325" width="5" height="9" fill="#000"/>
<rect x="755" y="326" width="3" height="7" fill="#fff"/>
<rect x="764" y="292" width="1" height="70" fill="#000"/>
<rect x="762" y="306" width="5" height="23" fill="#000"/>
<rect x="763" y="307" width="3" height="21" fill="#fff"/>
<rect x="772" y="284" width="1" height="44" fill="#000"/>
<rect x="770" y="307" width="5" height="6" fill="#000"/>
<rect x="780" y="296" width="1" height="13" fill="#000"/>
<rect x="778" y="300" width="5" height="4" fill="#000"/>
<rect x="779" y="301" width="3" height="2" fill="#fff"/>
<rect x="788" y="277" width="1" height="66" fill="#000"/>
<rect x="786" y="298" width="5" height="19" fill="#000"/>
<rect x="796" y="280" width="1" height="45" fill="#000"/>
<rect x="794" y="285" width="5" height="31" fill="#000"/>
<rect x="795" y="286" width="3" height="29" fill="#fff"/>
<rect x="804" y="282" width="1" height="41" fill="#000"/>
<rect x="802" y="285" width="5" height="37" fill="#000"/>
<rect x="812" y="315" width="1" height="69" fill="#000"/>
<rect x="810" y="320" width="5" height="48" fill="#000"/>
<rect x="820" y="318" width="1" height="51" fill="#000"/>
<rect x="818" y="330" width="5" height="34" fill="#000"/>
<rect x="819" y="331" width="3" height="32" fill="#fff"/>
<rect x="828" y="316" width="1" height="8" fill="#000"/>
<rect x="826" y="320" width="5" height="3" fill="#000"/>
<rect x="836" y="306" width="1" height="27" fill="#000"/>
<rect x="834" y="316" width="5" height="10" fill="#000"/>
<rect x="835" y="317" width="3" height="8" fill="#fff"/>
<rect x="844" y="301" width="1" height="53" fill="#000"/>
<rect x="842" y="317" width="5" height="28" fill="#000"/>
<rect x="852" y="341" width="1" height="59" fill="#000"/>
<rect x="850" y="343" width="5" height="29" fill="#000"/>
<rect x="860" y="353" width="1" height="43" fill="#000"/>
<rect x="858" y="372" width="5" height="19" fill="#000"/>
<rect x="868" y="382" width="1" height="78" fill="#000"/>
<rect x="866" y="389" width="5" height="63" fill="#000"/>
<rect x="876" y="462" width="1" height="12" fill="#000"/>
<rect x="874" y="465" width="5" height="3" fill="#000"/>
<rect x="884" y="433" width="1" height="40" fill="#000"/>
<rect x="882" y="450" width="5" height="19" fill="#000"/>
<rect x="883" y="451" width="3" height="17" fill="#fff"/>
<rect x="892" y="393" width="1" height="82" fill="#000"/>
<rect x="890" y="395" width="5" height="55" fill="#000"/>
<rect x="891" y="396" width="3" height="53" fill="#fff"/>
<rect x="900" y="374" width="1" height="40" fill="#000"/>
<rect x="898" y="393" width="5" height="5" fill="#000"/>
<rect x="899" y="394" width="3" height="3" fill="#fff"/>
<rect x="908" y="366" width="1" height="30" fill="#000"/>
<rect x="906" y="374" width="5" height="21" fill="#000"/>
<rect x="907" y="375" width="3" height="19" fill="#fff"/>
<rect x="916" y="341" width="1" height="43" fill="#000"/>
<rect x="914" y="344" width="5" height="32" fill="#000"/>
<rect x="915" y="345" width="3" height="30" fill="#fff"/>
<rect x="924" y="318" width="1" height="13" fill="#000"/>
<rect x="922" y="318" width="5" height="13" fill="#000"/>
<rect x="932" y="318" width="1" height="21" fill="#000"/>
<rect x="930" y="331" width="5" height="6" fill="#000"/>
<rect x="940" y="305" width="1" height="35" fill="#000"/>
<rect x="938" y="335" width="5" height="3" fill="#000"/>
<rect x="948" y="318" width="1" height="41" fill="#000"/>
<rect x="946" y="337" width="5" height="15" fill="#000"/>
<rect x="956" y="340" width="1" height="36" fill="#000"/>
<rect x="954" y="354" width="5" height="3" fill="#000"/>
<rect x="964" y="342" width="1" height="25" fill="#000"/>
<rect x="962" y="353" width="5" height="2" fill="#000"/>
<rect x="972" y="346" width="1" height="10" fill="#000"/>
<rect x="970" y="348" width="5" height="6" fill="#000"/>
<rect x="971" y="349" width="3" height="4" fill="#fff"/>
<rect x="980" y="329" width="1" height="25" fill="#000"/>
<rect x="978" y="343" width="5" height="7" fill="#000"/>
<rect x="979" y="344" width="3" height="5" fill="#fff"/>
<rect x="988" y="310" width="1" height="69" fill="#000"/>
<rect x="986" y="314" width="5" height="31" fill="#000"/>
<rect x="987" y="315" width="3" height="29" fill="#fff"/>
<rect x="996" y="285" width="1" height="34" fill="#000"/>
<rect x="994" y="288" width="5" height="26" fill="#000"/>
<rect x="995" y="289" width="3" height="24" fill="#fff"/>
<rect x="1004" y="253" width="1" height="46" fill="#000"/>
<rect x="1002" y="277" width="5" height="13" fill="#000"/>
<rect x="1003" y="278" width="3" height="11" fill="#fff"/>
<rect x="1012" y="277" width="1" height="48" fill="#000"/>
<rect x="1010" y="278" width="5" height="44" fill="#000"/>
<rect x="1020" y="316" width="1" height="10" fill="#000"/>
<rect x="1018" y="322" width="5" height="3" fill="#000"/>
<rect x="1028" y="305" width="1" height="26" fill="#000"/>
<rect x="1026" y="322" width="5" height="2" fill="#000"/>
<rect x="1036" y="308" width="1" height="41" fill="#000"/>
<rect x="1034" y="321" width="5" height="23" fill="#000"/>
<rect x="1044" y="311" width="1" height="40" fill="#000"/>
<rect x="1042" y="332" width="5" height="13" fill="#000"/>
<rect x="1043" y="333" width="3" height="11" fill="#fff"/>
<rect x="1052" y="298" width="1" height="39" fill="#000"/>
<rect x="1050" y="311" width="5" height="20" fill="#000"/>
<rect x="1051" y="312" width="3" height="18" fill="#fff"/>
<rect x="1060" y="298" width="1" height="27" fill="#000"/>
<rect x="1058" y="298" width="5" height="13" fill="#000"/>
<rect x="1059" y="299" width="3" height="11" fill="#fff"/>
<rect x="1068" y="239" width="1" height="10" fill="#000"/>
<rect x="1066" y="240" width="5" height="7" fill="#000"/>
<rect x="1067" y="241" width="3" height="5" fill="#fff"/>
<rect x="1076" y="210" width="1" height="51" fill="#000"/>
<rect x="1074" y="235" width="5" height="6" fill="#000"/>
<rect x="1075" y="236" width="3" height="4" fill="#fff"/>
<rect x="1084" y="221" width="1" height="25" fill="#000"/>
<rect x="1082" y="234" width="5" height="3" fill="#000"/>
<rect x="1092" y="225" width="1" height="36" fill="#000"/>
<rect x="1090" y="230" width="5" height="8" fill="#000"/>
<rect x="1091" y="231" width="3" height="6" fill="#fff"/>
<rect x="1100" y="227" width="1" height="13" fill="#000"/>
<rect x="1098" y="231" width="5" height="6" fill="#000"/>
<rect x="1108" y="229" width="1" height="26" fill="#000"/>
<rect x="1106" y="235" width="5" height="5" fill="#000"/>
<rect x="1116" y="236" width="1" height="10" fill="#000"/>
<rect x="1114" y="236" width="5" height="8" fill="#000"/>
<rect x="1124" y="243" width="1" height="29" fill="#000"/>
<rect x="1122" y="244" width="5" height="9" fill="#000"/>
<rect x="1132" y="238" width="1" height="36" fill="#000"/>
<rect x="1130" y="251" width="5" height="15" fill="#000"/>
<rect x="1140" y="245" width="1" height="26" fill="#000"/>
<rect x="1138" y="260" width="5" height="7" fill="#000"/>
<rect x="1139" y="261" width="3" height="5" fill="#fff"/>
<rect x="1148" y="237" width="1" height="28" fill="#000"/>
<rect x="1146" y="238" width="5" height="25" fill="#000"/>
<rect x="1147" y="239" width="3" height="23" fill="#fff"/>
<rect x="1156" y="233" width="1" height="22" fill="#000"/>
<rect x="1154" y="233" width="5" height="19" fill="#000"/>
<rect x="1164" y="250" width="1" height="8" fill="#000"/>
<rect x="1162" y="252" width="5" height="5" fill="#000"/>
<rect x="1172" y="234" width="1" height="29" fill="#000"/>
<rect x="1170" y="247" width="5" height="9" fill="#000"/>
<rect x="1171" y="248" width="3" height="7" fill="#fff"/>
<rect x="1180" y="244" width="1" height="32" fill="#000"/>
<rect x="1178" y="246" width="5" height="27" fill="#000"/>
<rect x="1188" y="272" width="1" height="34" fill="#000"/>
<rect x="1186" y="272" width="5" height="27" fill="#000"/>
<rect x="1196" y="297" width="1" height="61" fill="#000"/>
<rect x="1194" y="298" width="5" height="33" fill="#000"/>
<rect x="1204" y="273" width="1" height="64" fill="#000"/>
<rect x="1202" y="304" width="5" height="26" fill="#000"/>
<rect x="1203" y="305" width="3" height="24" fill="#fff"/>
<rect x="1212" y="286" width="1" height="12" fill="#000"/>
<rect x="1210" y="289" width="5" height="8" fill="#000"/>
<rect x="1211" y="290" width="3" height="6" fill="#fff"/>
<rect x="1220" y="279" width="1" height="24" fill="#000"/>
<rect x="1218" y="283" width="5" height="7" fill="#000"/>
<rect x="1219" y="284" width="3" height="5" fill="#fff"/>
<rect x="1228" y="227" width="1" height="59" fill="#000"/>
<rect x="1226" y="228" width="5" height="57" fill="#000"/>
<rect x="1227" y="229" width="3" height="55" fill="#fff"/>
<rect x="1236" y="218" width="1" height="30" fill="#000"/>
<rect x="1234" y="220" width="5" height="10" fill="#000"/>
<rect x="1235" y="221" width="3" height="8" fill="#fff"/>
<rect x="1244" y="213" width="1" height="35" fill="#000"/>
<rect x="1242" y="221" width="5" height="18" fill="#000"/>
<rect x="1252" y="234" width="1" height="20" fill="#000"/>
<rect x="1250" y="237" width="5" height="3" fill="#000"/>
<rect x="1260" y="242" width="1" height="5" fill="#000"/>
<rect x="1258" y="242" width="5" height="3" fill="#000"/>
<rect x="1268" y="234" width="1" height="33" fill="#000"/>
<rect x="1266" y="239" width="5" height="6" fill="#000"/>
<rect x="1267" y="240" width="3" height="4" fill="#fff"/>
<rect x="1276" y="218" width="1" height="56" fill="#000"/>
<rect x="1274" y="238" width="5" height="27" fill="#000"/>
<rect x="1284" y="253" width="1" height="57" fill="#000"/>
<rect x="1282" y="266" width="5" height="29" fill="#000"/>
<rect x="1292" y="253" width="1" height="99" fill="#000"/>
<rect x="1290" y="293" width="5" height="45" fill="#000"/>
<rect x="1300" y="325" width="1" height="69" fill="#000"/>
<rect x="1298" y="336" width="5" height="37" fill="#000"/>
<rect x="1308" y="369" width="1" height="8" fill="#000"/>
<rect x="1306" y="371" width="5" height="5" fill="#000"/>
<rect x="1307" y="372" width="3" height="3" fill="#fff"/>
<rect x="1316" y="366" width="1" height="164" fill="#000"/>
<rect x="1314" y="370" width="5" height="151" fill="#000"/>
<rect x="1324" y="412" width="1" height="109" fill="#000"/>
<rect x="1322" y="433" width="5" height="88" fill="#000"/>
<rect x="1323" y="434" width="3" height="86" fill="#fff"/>
<rect x="1332" y="412" width="1" height="77" fill="#000"/>
<rect x="1330" y="434" width="5" height="1" fill="#000"/>
<rect x="1340" y="388" width="1" height="62" fill="#000"/>
<rect x="1338" y="397" width="5" height="39" fill="#000"/>
<rect x="1339" y="398" width="3" height="37" fill="#fff"/>
<rect x="1348" y="392" width="1" height="71" fill="#000"/>
<rect x="1346" y="394" width="5" height="47" fill="#000"/>
<rect x="1356" y="443" width="1" height="15" fill="#000"/>
<rect x="1354" y="443" width="5" height="13" fill="#000"/>
<rect x="1364" y="424" width="1" height="64" fill="#000"/>
<rect x="1362" y="453" width="5" height="7" fill="#000"/>
<rect x="1372" y="393" width="1" height="95" fill="#000"/>
<rect x="1370" y="407" width="5" height="53" fill="#000"/>
<rect x="1371" y="408" width="3" height="51" fill="#fff"/>
<rect x="1380" y="407" width="1" height="102" fill="#000"/>
<rect x="1378" y="408" width="5" height="99" fill="#000"/>
</g>
</g>
<text x="1398.5" y="396.5" font-size="31.5" font-weight="700" fill="#0b2f0b" style="font-family:'Liberation Serif','Noto Serif CJK SC',serif" textLength="161" lengthAdjust="spacingAndGlyphs">多空转折点</text>
<text x="1397.5" y="395.5" font-size="31.5" font-weight="700" fill="#00ea00" style="font-family:'Liberation Serif','Noto Serif CJK SC',serif" textLength="161" lengthAdjust="spacingAndGlyphs">多空转折点</text>
<g class="c"><rect x="1397" y="478" width="8" height="1" fill="#f00"/><rect x="1404" y="476" width="3" height="4" fill="#fff" stroke="none"/><rect x="1404.5" y="476.5" width="2" height="3" fill="#fff" stroke="#f00" stroke-width="1"/>
<rect x="1407.5" y="462.5" width="99" height="32" fill="#fff" stroke="#f00" stroke-width="1"/></g>
<text x="1408.7" y="488.7" font-size="27.5" fill="#ff0000" stroke="#ff0000" stroke-width="0" text-anchor="start" textLength="96.5" lengthAdjust="spacingAndGlyphs">20253.3</text>
<g>
<rect class="c" x="1625" y="51" width="2" height="1" fill="#000"/>
<text x="1630" y="55" font-size="9.7" fill="#000" stroke="#000" stroke-width="0.25" text-anchor="start" textLength="33" lengthAdjust="spacingAndGlyphs">22720.5</text>
<rect class="c" x="1625" y="84" width="2" height="1" fill="#000"/>
<text x="1630" y="88" font-size="9.7" fill="#000" stroke="#000" stroke-width="0.25" text-anchor="start" textLength="33" lengthAdjust="spacingAndGlyphs">22533.5</text>
<rect class="c" x="1625" y="117" width="2" height="1" fill="#000"/>
<text x="1630" y="121" font-size="9.7" fill="#000" stroke="#000" stroke-width="0.25" text-anchor="start" textLength="33" lengthAdjust="spacingAndGlyphs">22341.0</text>
<rect class="c" x="1625" y="150" width="2" height="1" fill="#000"/>
<text x="1630" y="154" font-size="9.7" fill="#000" stroke="#000" stroke-width="0.25" text-anchor="start" textLength="33" lengthAdjust="spacingAndGlyphs">22148.5</text>
<rect class="c" x="1625" y="183" width="2" height="1" fill="#000"/>
<text x="1630" y="187" font-size="9.7" fill="#000" stroke="#000" stroke-width="0.25" text-anchor="start" textLength="33" lengthAdjust="spacingAndGlyphs">21961.5</text>
<rect class="c" x="1625" y="216" width="2" height="1" fill="#000"/>
<text x="1630" y="220" font-size="9.7" fill="#000" stroke="#000" stroke-width="0.25" text-anchor="start" textLength="33" lengthAdjust="spacingAndGlyphs">21769.0</text>
<rect class="c" x="1625" y="249" width="2" height="1" fill="#000"/>
<text x="1630" y="253" font-size="9.7" fill="#000" stroke="#000" stroke-width="0.25" text-anchor="start" textLength="33" lengthAdjust="spacingAndGlyphs">21576.5</text>
<rect class="c" x="1625" y="282" width="2" height="1" fill="#000"/>
<text x="1630" y="286" font-size="9.7" fill="#000" stroke="#000" stroke-width="0.25" text-anchor="start" textLength="33" lengthAdjust="spacingAndGlyphs">21389.5</text>
<rect class="c" x="1625" y="315" width="2" height="1" fill="#000"/>
<text x="1630" y="319" font-size="9.7" fill="#000" stroke="#000" stroke-width="0.25" text-anchor="start" textLength="33" lengthAdjust="spacingAndGlyphs">21197.0</text>
<rect class="c" x="1625" y="348" width="2" height="1" fill="#000"/>
<text x="1630" y="352" font-size="9.7" fill="#000" stroke="#000" stroke-width="0.25" text-anchor="start" textLength="33" lengthAdjust="spacingAndGlyphs">21004.5</text>
<rect class="c" x="1625" y="381" width="2" height="1" fill="#000"/>
<text x="1630" y="385" font-size="9.7" fill="#000" stroke="#000" stroke-width="0.25" text-anchor="start" textLength="33" lengthAdjust="spacingAndGlyphs">20817.5</text>
<rect class="c" x="1625" y="414" width="2" height="1" fill="#000"/>
<text x="1630" y="418" font-size="9.7" fill="#000" stroke="#000" stroke-width="0.25" text-anchor="start" textLength="33" lengthAdjust="spacingAndGlyphs">20625.0</text>
<rect class="c" x="1625" y="447" width="2" height="1" fill="#000"/>
<text x="1630" y="451" font-size="9.7" fill="#000" stroke="#000" stroke-width="0.25" text-anchor="start" textLength="33" lengthAdjust="spacingAndGlyphs">20432.5</text>
<rect class="c" x="1625" y="480" width="2" height="1" fill="#000"/>
<text x="1630" y="484" font-size="9.7" fill="#000" stroke="#000" stroke-width="0.25" text-anchor="start" textLength="33" lengthAdjust="spacingAndGlyphs">20245.5</text>
<rect class="c" x="1625" y="513" width="2" height="1" fill="#000"/>
<text x="1630" y="517" font-size="9.7" fill="#000" stroke="#000" stroke-width="0.25" text-anchor="start" textLength="33" lengthAdjust="spacingAndGlyphs">20053.0</text>
<rect class="c" x="1625" y="546" width="2" height="1" fill="#000"/>
<text x="1630" y="550" font-size="9.7" fill="#000" stroke="#000" stroke-width="0.25" text-anchor="start" textLength="33" lengthAdjust="spacingAndGlyphs">19860.5</text>
<rect class="c" x="1625" y="579" width="2" height="1" fill="#000"/>
<text x="1630" y="583" font-size="9.7" fill="#000" stroke="#000" stroke-width="0.25" text-anchor="start" textLength="33" lengthAdjust="spacingAndGlyphs">19673.5</text>
</g>
<rect class="c" x="1626" y="400" width="41" height="11" fill="#ff0000"/>
<text x="1630" y="409" font-size="9.7" fill="#fff" stroke="#fff" stroke-width="0.25" text-anchor="start" textLength="33" lengthAdjust="spacingAndGlyphs">20668.8</text>
<rect class="c" x="1626" y="444" width="41" height="11" fill="#ff0000"/>
<text x="1630" y="453" font-size="9.7" fill="#fff" stroke="#fff" stroke-width="0.25" text-anchor="start" textLength="33" lengthAdjust="spacingAndGlyphs">20416.4</text>
<rect class="c" x="1626" y="472" width="41" height="11" fill="#32cd32"/>
<text x="1630" y="481" font-size="9.7" fill="#fff" stroke="#fff" stroke-width="0.25" text-anchor="start" textLength="33" lengthAdjust="spacingAndGlyphs">20253.3</text>
<rect class="c" x="1626" y="501" width="41" height="11" fill="#000000"/>
<text x="1630" y="510" font-size="9.7" fill="#fff" stroke="#fff" stroke-width="0.25" text-anchor="start" textLength="33" lengthAdjust="spacingAndGlyphs">20095.0</text>
<rect class="c" x="1626" y="535" width="41" height="11" fill="#0000ff"/>
<text x="1630" y="544" font-size="9.7" fill="#fff" stroke="#fff" stroke-width="0.25" text-anchor="start" textLength="33" lengthAdjust="spacingAndGlyphs">19889.8</text>
<rect class="c" x="1626" y="571" width="41" height="11" fill="#0000ff"/>
<text x="1630" y="580" font-size="9.7" fill="#fff" stroke="#fff" stroke-width="0.25" text-anchor="start" textLength="33" lengthAdjust="spacingAndGlyphs">19681.4</text>
<g class="c" fill="#c0c0c0"><rect x="1390" y="30" width="9" height="1"/><rect x="1391" y="31" width="7" height="1"/><rect x="1392" y="32" width="5" height="1"/><rect x="1393" y="33" width="3" height="1"/><rect x="1394" y="34" width="1" height="1"/></g>
<path d="M0.5 40.5 L3.5 36.5 L6.5 40.5 Z" fill="#000"/>
<text x="10.5" y="41" font-size="9.4" fill="#000" stroke="#000" stroke-width="0.25" text-anchor="start" textLength="207.5" lengthAdjust="spacingAndGlyphs" xml:space="preserve">JPN225-,Daily  20657.5 20667.5 20082.5 20095.0</text>
<g clip-path="url(#cpMacd)">
<g class="c">
<rect x="4" y="650" width="1" height="20" fill="#c0c0c0"/>
<rect x="12" y="647" width="1" height="23" fill="#c0c0c0"/>
<rect x="20" y="651" width="1" height="19" fill="#c0c0c0"/>
<rect x="28" y="649" width="1" height="21" fill="#c0c0c0"/>
<rect x="36" y="645" width="1" height="25" fill="#c0c0c0"/>
<rect x="44" y="643" width="1" height="27" fill="#c0c0c0"/>
<rect x="52" y="643" width="1" height="27" fill="#c0c0c0"/>
<rect x="60" y="642" width="1" height="28" fill="#c0c0c0"/>
<rect x="68" y="639" width="1" height="31" fill="#c0c0c0"/>
<rect x="76" y="636" width="1" height="34" fill="#c0c0c0"/>
<rect x="84" y="636" width="1" height="34" fill="#c0c0c0"/>
<rect x="92" y="646" width="1" height="24" fill="#c0c0c0"/>
<rect x="100" y="657" width="1" height="13" fill="#c0c0c0"/>
<rect x="108" y="667" width="1" height="3" fill="#c0c0c0"/>
<rect x="116" y="669" width="1" height="1" fill="#c0c0c0"/>
<rect x="124" y="661" width="1" height="9" fill="#c0c0c0"/>
<rect x="132" y="651" width="1" height="19" fill="#c0c0c0"/>
<rect x="140" y="646" width="1" height="24" fill="#c0c0c0"/>
<rect x="148" y="638" width="1" height="32" fill="#c0c0c0"/>
<rect x="156" y="630" width="1" height="40" fill="#c0c0c0"/>
<rect x="164" y="625" width="1" height="45" fill="#c0c0c0"/>
<rect x="172" y="619" width="1" height="51" fill="#c0c0c0"/>
<rect x="180" y="614" width="1" height="56" fill="#c0c0c0"/>
<rect x="188" y="611" width="1" height="59" fill="#c0c0c0"/>
<rect x="196" y="608" width="1" height="62" fill="#c0c0c0"/>
<rect x="204" y="604" width="1" height="66" fill="#c0c0c0"/>
<rect x="212" y="601" width="1" height="69" fill="#c0c0c0"/>
<rect x="220" y="601" width="1" height="69" fill="#c0c0c0"/>
<rect x="228" y="600" width="1" height="70" fill="#c0c0c0"/>
<rect x="236" y="602" width="1" height="68" fill="#c0c0c0"/>
<rect x="244" y="599" width="1" height="71" fill="#c0c0c0"/>
<rect x="252" y="595" width="1" height="75" fill="#c0c0c0"/>
<rect x="260" y="595" width="1" height="75" fill="#c0c0c0"/>
<rect x="268" y="600" width="1" height="70" fill="#c0c0c0"/>
<rect x="276" y="612" width="1" height="58" fill="#c0c0c0"/>
<rect x="284" y="624" width="1" height="46" fill="#c0c0c0"/>
<rect x="292" y="641" width="1" height="29" fill="#c0c0c0"/>
<rect x="300" y="654" width="1" height="16" fill="#c0c0c0"/>
<rect x="308" y="656" width="1" height="14" fill="#c0c0c0"/>
<rect x="316" y="658" width="1" height="12" fill="#c0c0c0"/>
<rect x="324" y="657" width="1" height="13" fill="#c0c0c0"/>
<rect x="332" y="660" width="1" height="10" fill="#c0c0c0"/>
<rect x="340" y="659" width="1" height="11" fill="#c0c0c0"/>
<rect x="348" y="656" width="1" height="14" fill="#c0c0c0"/>
<rect x="356" y="654" width="1" height="16" fill="#c0c0c0"/>
<rect x="364" y="654" width="1" height="16" fill="#c0c0c0"/>
<rect x="372" y="655" width="1" height="15" fill="#c0c0c0"/>
<rect x="380" y="655" width="1" height="15" fill="#c0c0c0"/>
<rect x="388" y="664" width="1" height="6" fill="#c0c0c0"/>
<rect x="404" y="669" width="1" height="6" fill="#c0c0c0"/>
<rect x="412" y="669" width="1" height="2" fill="#c0c0c0"/>
<rect x="420" y="669" width="1" height="3" fill="#c0c0c0"/>
<rect x="428" y="669" width="1" height="2" fill="#c0c0c0"/>
<rect x="444" y="663" width="1" height="7" fill="#c0c0c0"/>
<rect x="452" y="652" width="1" height="18" fill="#c0c0c0"/>
<rect x="460" y="649" width="1" height="21" fill="#c0c0c0"/>
<rect x="468" y="643" width="1" height="27" fill="#c0c0c0"/>
<rect x="476" y="638" width="1" height="32" fill="#c0c0c0"/>
<rect x="484" y="631" width="1" height="39" fill="#c0c0c0"/>
<rect x="492" y="625" width="1" height="45" fill="#c0c0c0"/>
<rect x="500" y="625" width="1" height="45" fill="#c0c0c0"/>
<rect x="508" y="629" width="1" height="41" fill="#c0c0c0"/>
<rect x="516" y="632" width="1" height="38" fill="#c0c0c0"/>
<rect x="524" y="630" width="1" height="40" fill="#c0c0c0"/>
<rect x="532" y="623" width="1" height="47" fill="#c0c0c0"/>
<rect x="540" y="618" width="1" height="52" fill="#c0c0c0"/>
<rect x="548" y="613" width="1" height="57" fill="#c0c0c0"/>
<rect x="556" y="607" width="1" height="63" fill="#c0c0c0"/>
<rect x="564" y="603" width="1" height="67" fill="#c0c0c0"/>
<rect x="572" y="602" width="1" height="68" fill="#c0c0c0"/>
<rect x="580" y="602" width="1" height="68" fill="#c0c0c0"/>
<rect x="588" y="603" width="1" height="67" fill="#c0c0c0"/>
<rect x="596" y="603" width="1" height="67" fill="#c0c0c0"/>
<rect x="604" y="602" width="1" height="68" fill="#c0c0c0"/>
<rect x="612" y="605" width="1" height="65" fill="#c0c0c0"/>
<rect x="620" y="610" width="1" height="60" fill="#c0c0c0"/>
<rect x="628" y="609" width="1" height="61" fill="#c0c0c0"/>
<rect x="636" y="609" width="1" height="61" fill="#c0c0c0"/>
<rect x="644" y="610" width="1" height="60" fill="#c0c0c0"/>
<rect x="652" y="610" width="1" height="60" fill="#c0c0c0"/>
<rect x="660" y="616" width="1" height="54" fill="#c0c0c0"/>
<rect x="668" y="619" width="1" height="51" fill="#c0c0c0"/>
<rect x="676" y="617" width="1" height="53" fill="#c0c0c0"/>
<rect x="684" y="627" width="1" height="43" fill="#c0c0c0"/>
<rect x="692" y="633" width="1" height="37" fill="#c0c0c0"/>
<rect x="700" y="650" width="1" height="20" fill="#c0c0c0"/>
<rect x="708" y="666" width="1" height="4" fill="#c0c0c0"/>
<rect x="716" y="669" width="1" height="12" fill="#c0c0c0"/>
<rect x="724" y="669" width="1" height="21" fill="#c0c0c0"/>
<rect x="732" y="669" width="1" height="36" fill="#c0c0c0"/>
<rect x="740" y="669" width="1" height="56" fill="#c0c0c0"/>
<rect x="748" y="669" width="1" height="63" fill="#c0c0c0"/>
<rect x="756" y="669" width="1" height="67" fill="#c0c0c0"/>
<rect x="764" y="669" width="1" height="67" fill="#c0c0c0"/>
<rect x="772" y="669" width="1" height="67" fill="#c0c0c0"/>
<rect x="780" y="669" width="1" height="65" fill="#c0c0c0"/>
<rect x="788" y="669" width="1" height="64" fill="#c0c0c0"/>
<rect x="796" y="669" width="1" height="59" fill="#c0c0c0"/>
<rect x="804" y="669" width="1" height="59" fill="#c0c0c0"/>
<rect x="812" y="669" width="1" height="64" fill="#c0c0c0"/>
<rect x="820" y="669" width="1" height="63" fill="#c0c0c0"/>
<rect x="828" y="669" width="1" height="60" fill="#c0c0c0"/>
<rect x="836" y="669" width="1" height="57" fill="#c0c0c0"/>
<rect x="844" y="669" width="1" height="57" fill="#c0c0c0"/>
<rect x="852" y="669" width="1" height="60" fill="#c0c0c0"/>
<rect x="860" y="669" width="1" height="64" fill="#c0c0c0"/>
<rect x="868" y="669" width="1" height="75" fill="#c0c0c0"/>
<rect x="876" y="669" width="1" height="85" fill="#c0c0c0"/>
<rect x="884" y="669" width="1" height="89" fill="#c0c0c0"/>
<rect x="892" y="669" width="1" height="84" fill="#c0c0c0"/>
<rect x="900" y="669" width="1" height="79" fill="#c0c0c0"/>
<rect x="908" y="669" width="1" height="72" fill="#c0c0c0"/>
<rect x="916" y="669" width="1" height="61" fill="#c0c0c0"/>
<rect x="924" y="669" width="1" height="50" fill="#c0c0c0"/>
<rect x="932" y="669" width="1" height="42" fill="#c0c0c0"/>
<rect x="940" y="669" width="1" height="35" fill="#c0c0c0"/>
<rect x="948" y="669" width="1" height="31" fill="#c0c0c0"/>
<rect x="956" y="669" width="1" height="28" fill="#c0c0c0"/>
<rect x="964" y="669" width="1" height="26" fill="#c0c0c0"/>
<rect x="972" y="669" width="1" height="22" fill="#c0c0c0"/>
<rect x="980" y="669" width="1" height="19" fill="#c0c0c0"/>
<rect x="988" y="669" width="1" height="12" fill="#c0c0c0"/>
<rect x="996" y="669" width="1" height="1" fill="#c0c0c0"/>
<rect x="1004" y="665" width="1" height="5" fill="#c0c0c0"/>
<rect x="1012" y="664" width="1" height="6" fill="#c0c0c0"/>
<rect x="1020" y="664" width="1" height="6" fill="#c0c0c0"/>
<rect x="1028" y="663" width="1" height="7" fill="#c0c0c0"/>
<rect x="1036" y="666" width="1" height="4" fill="#c0c0c0"/>
<rect x="1044" y="667" width="1" height="3" fill="#c0c0c0"/>
<rect x="1052" y="665" width="1" height="5" fill="#c0c0c0"/>
<rect x="1060" y="661" width="1" height="9" fill="#c0c0c0"/>
<rect x="1068" y="651" width="1" height="19" fill="#c0c0c0"/>
<rect x="1076" y="642" width="1" height="28" fill="#c0c0c0"/>
<rect x="1084" y="636" width="1" height="34" fill="#c0c0c0"/>
<rect x="1092" y="631" width="1" height="39" fill="#c0c0c0"/>
<rect x="1100" y="628" width="1" height="42" fill="#c0c0c0"/>
<rect x="1108" y="626" width="1" height="44" fill="#c0c0c0"/>
<rect x="1116" y="626" width="1" height="44" fill="#c0c0c0"/>
<rect x="1124" y="628" width="1" height="42" fill="#c0c0c0"/>
<rect x="1132" y="631" width="1" height="39" fill="#c0c0c0"/>
<rect x="1140" y="634" width="1" height="36" fill="#c0c0c0"/>
<rect x="1148" y="633" width="1" height="37" fill="#c0c0c0"/>
<rect x="1156" y="635" width="1" height="35" fill="#c0c0c0"/>
<rect x="1164" y="637" width="1" height="33" fill="#c0c0c0"/>
<rect x="1172" y="638" width="1" height="32" fill="#c0c0c0"/>
<rect x="1180" y="643" width="1" height="27" fill="#c0c0c0"/>
<rect x="1188" y="650" width="1" height="20" fill="#c0c0c0"/>
<rect x="1196" y="661" width="1" height="9" fill="#c0c0c0"/>
<rect x="1204" y="665" width="1" height="5" fill="#c0c0c0"/>
<rect x="1212" y="667" width="1" height="3" fill="#c0c0c0"/>
<rect x="1220" y="667" width="1" height="3" fill="#c0c0c0"/>
<rect x="1228" y="661" width="1" height="9" fill="#c0c0c0"/>
<rect x="1236" y="655" width="1" height="15" fill="#c0c0c0"/>
<rect x="1244" y="652" width="1" height="18" fill="#c0c0c0"/>
<rect x="1252" y="650" width="1" height="20" fill="#c0c0c0"/>
<rect x="1260" y="650" width="1" height="20" fill="#c0c0c0"/>
<rect x="1268" y="649" width="1" height="21" fill="#c0c0c0"/>
<rect x="1276" y="652" width="1" height="18" fill="#c0c0c0"/>
<rect x="1284" y="659" width="1" height="11" fill="#c0c0c0"/>
<rect x="1300" y="669" width="1" height="13" fill="#c0c0c0"/>
<rect x="1308" y="669" width="1" height="24" fill="#c0c0c0"/>
<rect x="1316" y="669" width="1" height="51" fill="#c0c0c0"/>
<rect x="1324" y="669" width="1" height="61" fill="#c0c0c0"/>
<rect x="1332" y="669" width="1" height="68" fill="#c0c0c0"/>
<rect x="1340" y="669" width="1" height="67" fill="#c0c0c0"/>
<rect x="1348" y="669" width="1" height="72" fill="#c0c0c0"/>
<rect x="1356" y="669" width="1" height="77" fill="#c0c0c0"/>
<rect x="1364" y="669" width="1" height="80" fill="#c0c0c0"/>
<rect x="1372" y="669" width="1" height="75" fill="#c0c0c0"/>
<rect x="1380" y="669" width="1" height="83" fill="#c0c0c0"/>
</g>
<polyline fill="none" stroke="#ff0000" stroke-width="1" points="2.5,668.0 7.5,663.5 15.0,658.5 22.5,655.0 30.0,652.5 37.5,651.0 45.0,649.5 52.5,648.0 60.0,647.0 67.5,644.5 75.0,643.5 82.5,642.5 90.0,641.5 100.0,642.2 107.5,645.5 115.0,647.8 122.5,649.5 130.0,651.0 140.0,651.5 150.0,652.0 160.0,650.5 170.0,646.0 180.0,638.5 190.0,630.5 200.0,624.0 212.5,616.0 225.0,609.8 235.0,607.0 245.0,603.0 255.0,600.2 265.0,599.5 272.5,599.8 280.0,601.5 290.0,606.0 300.0,613.5 310.0,620.5 320.0,628.0 330.0,637.2 340.0,646.0 348.8,652.0 357.5,654.2 365.0,656.0 375.0,656.5 387.5,656.5 397.5,658.5 405.0,661.0 415.0,662.2 425.5,665.2 435.5,667.2 443.0,667.8 453.0,667.2 460.5,665.2 468.0,662.5 475.5,658.5 483.0,654.2 490.5,649.8 500.5,642.8 508.0,638.5 513.0,636.5 520.5,634.2 528.0,631.5 535.5,629.0 543.0,627.0 553.0,622.5 563.0,620.0 573.0,617.2 580.5,613.5 588.0,611.0 598.0,606.5 605.5,605.0 613.0,604.5 620.5,603.2 628.0,603.2 635.5,604.5 645.5,605.5 655.5,606.5 665.5,608.5 673.0,610.5 680.5,612.8 690.5,614.8 700.5,620.2 708.0,626.5 718.0,637.2 728.0,648.5 738.0,660.5 748.0,676.0 755.5,689.8 763.0,701.0 773.0,712.5 780.5,720.5 788.0,725.5 798.0,730.5 805.5,732.8 815.5,733.2 825.5,732.5 834.2,731.5 838.5,731.0 848.5,730.5 863.5,730.5 868.5,732.2 876.0,734.5 886.0,738.0 893.5,739.0 901.0,741.2 908.5,743.0 918.5,743.0 928.5,741.5 936.0,738.5 943.5,733.5 951.0,727.5 958.5,721.0 966.0,714.8 976.0,707.2 986.0,699.8 996.0,693.5 1006.0,686.8 1016.0,681.0 1026.0,676.0 1036.0,672.2 1043.5,669.8 1051.0,667.8 1061.0,664.0 1071.0,662.0 1081.0,657.2 1091.0,653.5 1101.0,648.5 1111.0,643.0 1121.0,637.2 1128.5,634.0 1136.0,631.0 1146.0,629.5 1158.5,629.2 1168.5,630.5 1178.5,632.5 1186.0,635.5 1193.5,637.5 1201.0,641.5 1211.0,646.0 1221.0,651.0 1228.5,653.0 1236.0,655.5 1246.0,657.0 1253.0,658.2 1255.5,658.5 1263.0,658.0 1270.5,656.0 1280.5,654.8 1290.5,654.5 1298.0,656.0 1305.5,659.8 1313.0,666.0 1320.5,674.8 1328.0,683.5 1338.0,694.8 1348.0,707.2 1358.0,720.5 1368.0,730.5 1378.0,738.0" stroke-dasharray="3 3" class="c"/>
</g>
<text x="0.5" y="596.7" font-size="9.4" fill="#000" stroke="#000" stroke-width="0.25" text-anchor="start" textLength="133" lengthAdjust="spacingAndGlyphs">MACD(12,26,9) -287.17 -242.71</text>
<text x="1628" y="595" font-size="9.4" fill="#000" stroke="#000" stroke-width="0.25" text-anchor="start" textLength="28" lengthAdjust="spacingAndGlyphs">286.96</text>
<text x="1628" y="673" font-size="9.4" fill="#000" stroke="#000" stroke-width="0.25" text-anchor="start" textLength="18" lengthAdjust="spacingAndGlyphs">0.00</text>
<text x="1628" y="763.7" font-size="9.4" fill="#000" stroke="#000" stroke-width="0.25" text-anchor="start" textLength="31" lengthAdjust="spacingAndGlyphs">-335.62</text>
<g clip-path="url(#cpRsi)">
<line class="c" x1="3" y1="802.5" x2="1624" y2="802.5" stroke="#c0c0c0" stroke-width="1" stroke-dasharray="3 3"/>
<line class="c" x1="3" y1="849.5" x2="1624" y2="849.5" stroke="#c0c0c0" stroke-width="1" stroke-dasharray="3 3"/>
<line class="c" x1="3" y1="905.5" x2="1624" y2="905.5" stroke="#c0c0c0" stroke-width="1" stroke-dasharray="3 3"/>
<polyline fill="none" stroke="#1e90ff" stroke-width="1" points="-3.5,842.5 4.5,837.2 12.5,840.5 20.5,849.0 28.5,844.0 36.5,838.2 44.5,842.2 52.5,842.5 60.5,841.0 68.5,836.2 76.5,837.2 84.5,839.0 92.5,856.5 100.5,862.0 108.5,862.0 116.5,857.5 124.5,835.5 132.5,832.2 140.5,838.2 148.5,834.0 156.5,830.5 164.5,831.5 172.5,828.5 180.5,827.0 188.5,828.2 196.5,826.2 204.5,822.5 212.5,822.5 220.5,826.2 228.5,824.2 236.5,828.2 244.5,819.0 252.5,817.2 260.5,824.5 268.5,838.5 276.5,849.2 284.5,855.0 292.5,866.0 300.5,864.2 308.5,849.0 316.5,848.0 324.5,845.2 332.5,850.2 340.5,844.2 348.5,842.2 356.5,842.0 364.5,843.2 372.5,848.5 380.5,841.2 388.5,861.5 396.5,860.2 404.5,861.2 412.5,844.5 420.5,851.2 428.5,849.2 436.5,847.2 444.5,835.5 452.5,830.2 460.5,839.2 468.5,833.5 476.5,832.2 484.5,829.2 492.5,827.2 500.5,835.5 508.5,845.2 516.5,840.5 524.5,835.2 532.5,827.2 540.5,826.2 548.5,825.2 556.5,821.2 564.5,820.2 572.5,824.2 580.5,826.2 588.5,826.2 596.5,824.2 604.5,820.2 612.5,832.2 620.5,834.2 628.5,826.2 636.5,825.2 644.5,824.2 652.5,823.2 660.5,840.2 668.5,835.5 676.5,826.2 684.5,852.2 692.5,848.2 700.5,867.2 708.5,871.2 716.5,874.2 724.5,868.2 732.5,877.2 740.5,886.2 748.5,870.2 756.5,869.2 764.5,864.2 772.5,865.2 780.5,862.2 788.5,865.2 796.5,857.2 804.5,864.2 812.5,871.2 820.5,862.2 828.5,860.2 836.5,859.2 844.5,864.2 852.5,869.2 860.5,872.8 868.5,881.0 876.5,883.2 884.5,878.2 892.5,863.2 900.5,862.0 908.5,858.2 916.5,851.5 924.5,848.0 932.5,849.2 940.5,849.5 948.5,853.0 956.5,854.5 964.5,853.2 972.5,851.5 980.5,850.2 988.5,841.0 996.5,834.0 1004.5,831.2 1012.5,846.0 1020.5,847.2 1028.5,847.2 1036.5,854.2 1044.5,850.0 1052.5,843.0 1060.5,839.0 1068.5,825.5 1076.5,824.2 1084.5,825.2 1092.5,823.2 1100.5,826.2 1108.5,827.2 1116.5,829.2 1124.5,834.0 1132.5,840.2 1140.5,838.2 1148.5,831.5 1156.5,837.2 1164.5,840.2 1172.5,836.2 1180.5,849.2 1188.5,858.5 1196.5,868.2 1204.5,857.2 1212.5,852.2 1220.5,850.2 1228.5,833.2 1236.5,831.2 1244.5,838.2 1252.5,838.2 1260.5,840.2 1268.5,839.2 1276.5,849.2 1284.5,859.2 1292.5,869.2 1300.5,878.2 1308.5,877.2 1316.5,897.2 1324.5,873.2 1332.5,873.2 1340.5,864.2 1348.5,870.2 1356.5,872.2 1364.5,873.2 1372.5,860.2 1380.5,873.2" class="c"/>
</g>
<text x="0.5" y="781.7" font-size="9.4" fill="#000" stroke="#000" stroke-width="0.25" text-anchor="start" textLength="67" lengthAdjust="spacingAndGlyphs">RSI(14) 34.6150</text>
<text x="1628" y="780" font-size="9.4" fill="#000" stroke="#000" stroke-width="0.25" text-anchor="start" textLength="14" lengthAdjust="spacingAndGlyphs">100</text>
<text x="1628" y="806" font-size="9.4" fill="#000" stroke="#000" stroke-width="0.25" text-anchor="start" textLength="9.5" lengthAdjust="spacingAndGlyphs">80</text>
<text x="1628" y="853" font-size="9.4" fill="#000" stroke="#000" stroke-width="0.25" text-anchor="start" textLength="9.5" lengthAdjust="spacingAndGlyphs">50</text>
<text x="1628" y="909" font-size="9.4" fill="#000" stroke="#000" stroke-width="0.25" text-anchor="start" textLength="9.5" lengthAdjust="spacingAndGlyphs">15</text>
<text x="1628" y="926" font-size="9.4" fill="#000" stroke="#000" stroke-width="0.25" text-anchor="start" textLength="5" lengthAdjust="spacingAndGlyphs">0</text>
<text transform="translate(-1,942) scale(0.975,1)" font-size="9.4" fill="#000" stroke="#000" stroke-width="0.3">4 Jan 2019</text>
<rect class="c" x="60" y="930" width="1" height="3" fill="#000"/>
<text transform="translate(59,942) scale(0.975,1)" font-size="9.4" fill="#000" stroke="#000" stroke-width="0.3">3 Feb 2019</text>
<rect class="c" x="124" y="930" width="1" height="3" fill="#000"/>
<text transform="translate(123,942) scale(0.975,1)" font-size="9.4" fill="#000" stroke="#000" stroke-width="0.3">12 Feb 2019</text>
<rect class="c" x="188" y="930" width="1" height="3" fill="#000"/>
<text transform="translate(187,942) scale(0.975,1)" font-size="9.4" fill="#000" stroke="#000" stroke-width="0.3">21 Feb 2019</text>
<rect class="c" x="252" y="930" width="1" height="3" fill="#000"/>
<text transform="translate(251,942) scale(0.975,1)" font-size="9.4" fill="#000" stroke="#000" stroke-width="0.3">3 Mar 2019</text>
<rect class="c" x="316" y="930" width="1" height="3" fill="#000"/>
<text transform="translate(315,942) scale(0.975,1)" font-size="9.4" fill="#000" stroke="#000" stroke-width="0.3">12 Mar 2019</text>
<rect class="c" x="380" y="930" width="1" height="3" fill="#000"/>
<text transform="translate(379,942) scale(0.975,1)" font-size="9.4" fill="#000" stroke="#000" stroke-width="0.3">21 Mar 2019</text>
<rect class="c" x="444" y="930" width="1" height="3" fill="#000"/>
<text transform="translate(443,942) scale(0.975,1)" font-size="9.4" fill="#000" stroke="#000" stroke-width="0.3">31 Mar 2019</text>
<rect class="c" x="508" y="930" width="1" height="3" fill="#000"/>
<text transform="translate(507,942) scale(0.975,1)" font-size="9.4" fill="#000" stroke="#000" stroke-width="0.3">9 Apr 2019</text>
<rect class="c" x="572" y="930" width="1" height="3" fill="#000"/>
<text transform="translate(571,942) scale(0.975,1)" font-size="9.4" fill="#000" stroke="#000" stroke-width="0.3">18 Apr 2019</text>
<rect class="c" x="636" y="930" width="1" height="3" fill="#000"/>
<text transform="translate(635,942) scale(0.975,1)" font-size="9.4" fill="#000" stroke="#000" stroke-width="0.3">28 Apr 2019</text>
<rect class="c" x="700" y="930" width="1" height="3" fill="#000"/>
<text transform="translate(699,942) scale(0.975,1)" font-size="9.4" fill="#000" stroke="#000" stroke-width="0.3">7 May 2019</text>
<rect class="c" x="764" y="930" width="1" height="3" fill="#000"/>
<text transform="translate(763,942) scale(0.975,1)" font-size="9.4" fill="#000" stroke="#000" stroke-width="0.3">16 May 2019</text>
<rect class="c" x="828" y="930" width="1" height="3" fill="#000"/>
<text transform="translate(827,942) scale(0.975,1)" font-size="9.4" fill="#000" stroke="#000" stroke-width="0.3">26 May 2019</text>
<rect class="c" x="892" y="930" width="1" height="3" fill="#000"/>
<text transform="translate(891,942) scale(0.975,1)" font-size="9.4" fill="#000" stroke="#000" stroke-width="0.3">4 Jun 2019</text>
<rect class="c" x="956" y="930" width="1" height="3" fill="#000"/>
<text transform="translate(955,942) scale(0.975,1)" font-size="9.4" fill="#000" stroke="#000" stroke-width="0.3">13 Jun 2019</text>
<rect class="c" x="1020" y="930" width="1" height="3" fill="#000"/>
<text transform="translate(1019,942) scale(0.975,1)" font-size="9.4" fill="#000" stroke="#000" stroke-width="0.3">23 Jun 2019</text>
<rect class="c" x="1084" y="930" width="1" height="3" fill="#000"/>
<text transform="translate(1083,942) scale(0.975,1)" font-size="9.4" fill="#000" stroke="#000" stroke-width="0.3">2 Jul 2019</text>
<rect class="c" x="1148" y="930" width="1" height="3" fill="#000"/>
<text transform="translate(1147,942) scale(0.975,1)" font-size="9.4" fill="#000" stroke="#000" stroke-width="0.3">11 Jul 2019</text>
<rect class="c" x="1212" y="930" width="1" height="3" fill="#000"/>
<text transform="translate(1211,942) scale(0.975,1)" font-size="9.4" fill="#000" stroke="#000" stroke-width="0.3">21 Jul 2019</text>
<rect class="c" x="1276" y="930" width="1" height="3" fill="#000"/>
<text transform="translate(1275,942) scale(0.975,1)" font-size="9.4" fill="#000" stroke="#000" stroke-width="0.3">30 Jul 2019</text>
<rect class="c" x="1340" y="930" width="1" height="3" fill="#000"/>
<text transform="translate(1339,942) scale(0.975,1)" font-size="9.4" fill="#000" stroke="#000" stroke-width="0.3">8 Aug 2019</text>
<g class="c">
<rect x="0" y="49" width="218" height="24" fill="#fff"/>
<rect x="0" y="49" width="51" height="25" fill="url(#gSell)"/>
<rect x="166" y="49" width="52" height="25" fill="url(#gSell)"/>
<rect x="0" y="73" width="108" height="40" fill="url(#gPrice)"/>
<rect x="110" y="73" width="108" height="40" fill="url(#gPrice)"/>
<rect x="3" y="73" width="44" height="1" fill="#f08080"/>
<rect x="170" y="73" width="44" height="1" fill="#f08080"/>
<rect x="53.5" y="49.5" width="110" height="21" fill="#fff" stroke="#a9a9a9"/>
<rect x="54" y="50" width="20" height="20" fill="url(#gBtn)"/>
<rect x="143" y="50" width="20" height="20" fill="url(#gBtn)"/>
<rect x="74" y="50" width="1" height="20" fill="#b4b4b4"/>
<rect x="142" y="50" width="1" height="20" fill="#b4b4b4"/>
</g>
<path d="M61 58.5 L67 58.5 L64 61.5 Z" fill="#000"/>
<path d="M149.5 61.5 L155.5 61.5 L152.5 58.5 Z" fill="#000"/>
<text x="138.3" y="63.8" font-size="12" fill="#000" text-anchor="end">1.00</text>
<text x="11" y="64.6" font-size="12" fill="#fff" textLength="26" lengthAdjust="spacingAndGlyphs">SELL</text>
<text x="179.5" y="64.6" font-size="12" fill="#fff" textLength="23" lengthAdjust="spacingAndGlyphs">BUY</text>
<text x="15" y="104" font-size="12.5" font-weight="bold" fill="#fff" textLength="34.5" lengthAdjust="spacingAndGlyphs">20093</text>
<text x="125" y="104" font-size="12.5" font-weight="bold" fill="#fff" textLength="34.5" lengthAdjust="spacingAndGlyphs">20116</text>
<text x="53.6" y="104.6" font-size="34.2" fill="#fff" textLength="23" lengthAdjust="spacingAndGlyphs">.5</text>
<text x="164.6" y="104.6" font-size="34.2" fill="#fff" textLength="23" lengthAdjust="spacingAndGlyphs">.5</text>
</svg>
</body></html>
